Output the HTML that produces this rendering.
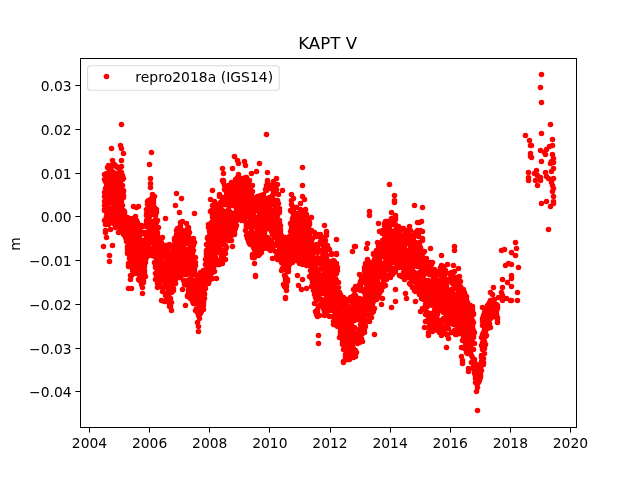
<!DOCTYPE html>
<html lang="en"><head><meta charset="utf-8"><title>KAPT V</title>
<style>html,body{margin:0;padding:0;background:#fff;}body{width:640px;height:480px;overflow:hidden;}svg{display:block;}</style></head>
<body>
<svg width="640" height="480" viewBox="0 0 640 480">
<rect width="640" height="480" fill="#fff"/>
<clipPath id="c"><rect x="80.0" y="57.6" width="496.0" height="369.6"/></clipPath>
<path clip-path="url(#c)" d="M104.5 179.5h0M104.5 220.5h0M104.5 210.5h0M104.5 201.5h0M104.5 196.5h0M104.5 174.5h0M104.5 205.5h0M104.5 209.5h0M104.5 192.5h0M105.5 230.5h0M105.5 224.5h0M105.5 177.5h0M105.5 188.5h0M105.5 210.5h0M105.5 222.5h0M105.5 194.5h0M105.5 181.5h0M105.5 198.5h0M105.5 190.5h0M105.5 219.5h0M106.5 201.5h0M106.5 223.5h0M106.5 198.5h0M106.5 185.5h0M106.5 194.5h0M106.5 212.5h0M106.5 210.5h0M106.5 216.5h0M106.5 188.5h0M106.5 182.5h0M106.5 189.5h0M106.5 173.5h0M107.5 212.5h0M107.5 203.5h0M107.5 205.5h0M107.5 185.5h0M107.5 219.5h0M107.5 173.5h0M107.5 216.5h0M107.5 182.5h0M107.5 201.5h0M107.5 208.5h0M107.5 214.5h0M108.5 193.5h0M108.5 165.5h0M108.5 208.5h0M108.5 180.5h0M108.5 197.5h0M108.5 195.5h0M108.5 182.5h0M108.5 215.5h0M108.5 173.5h0M108.5 224.5h0M109.5 221.5h0M109.5 175.5h0M109.5 218.5h0M109.5 169.5h0M109.5 168.5h0M109.5 174.5h0M109.5 189.5h0M109.5 222.5h0M109.5 213.5h0M109.5 181.5h0M109.5 188.5h0M110.5 220.5h0M110.5 177.5h0M110.5 171.5h0M110.5 182.5h0M110.5 202.5h0M110.5 166.5h0M110.5 187.5h0M110.5 195.5h0M110.5 199.5h0M110.5 215.5h0M110.5 188.5h0M111.5 176.5h0M111.5 191.5h0M111.5 208.5h0M111.5 217.5h0M111.5 170.5h0M111.5 200.5h0M111.5 219.5h0M111.5 165.5h0M111.5 181.5h0M111.5 216.5h0M111.5 213.5h0M112.5 179.5h0M112.5 177.5h0M112.5 192.5h0M112.5 208.5h0M112.5 220.5h0M112.5 210.5h0M112.5 197.5h0M112.5 216.5h0M112.5 176.5h0M112.5 222.5h0M113.5 201.5h0M113.5 223.5h0M113.5 205.5h0M113.5 218.5h0M113.5 187.5h0M113.5 182.5h0M113.5 165.5h0M113.5 183.5h0M113.5 179.5h0M113.5 220.5h0M113.5 180.5h0M113.5 172.5h0M114.5 191.5h0M114.5 223.5h0M114.5 174.5h0M114.5 203.5h0M114.5 215.5h0M114.5 186.5h0M114.5 164.5h0M114.5 199.5h0M114.5 195.5h0M114.5 182.5h0M115.5 198.5h0M115.5 188.5h0M115.5 182.5h0M115.5 174.5h0M115.5 195.5h0M115.5 205.5h0M115.5 190.5h0M115.5 178.5h0M115.5 222.5h0M115.5 187.5h0M116.5 219.5h0M116.5 203.5h0M116.5 204.5h0M116.5 180.5h0M116.5 208.5h0M116.5 205.5h0M116.5 190.5h0M116.5 220.5h0M116.5 226.5h0M116.5 201.5h0M116.5 207.5h0M117.5 213.5h0M117.5 177.5h0M117.5 211.5h0M117.5 200.5h0M117.5 199.5h0M117.5 217.5h0M117.5 205.5h0M117.5 167.5h0M117.5 195.5h0M117.5 173.5h0M117.5 225.5h0M118.5 174.5h0M118.5 179.5h0M118.5 195.5h0M118.5 209.5h0M118.5 190.5h0M118.5 226.5h0M118.5 200.5h0M118.5 221.5h0M118.5 185.5h0M118.5 217.5h0M118.5 173.5h0M119.5 198.5h0M119.5 168.5h0M119.5 185.5h0M119.5 214.5h0M119.5 197.5h0M119.5 188.5h0M119.5 181.5h0M119.5 213.5h0M119.5 206.5h0M119.5 196.5h0M119.5 224.5h0M119.5 219.5h0M119.5 207.5h0M120.5 183.5h0M120.5 215.5h0M120.5 197.5h0M120.5 187.5h0M120.5 171.5h0M120.5 172.5h0M120.5 186.5h0M120.5 178.5h0M120.5 221.5h0M120.5 193.5h0M121.5 196.5h0M121.5 229.5h0M121.5 188.5h0M121.5 191.5h0M121.5 193.5h0M121.5 189.5h0M121.5 201.5h0M121.5 187.5h0M121.5 195.5h0M121.5 172.5h0M121.5 185.5h0M122.5 175.5h0M122.5 197.5h0M122.5 214.5h0M122.5 231.5h0M122.5 216.5h0M122.5 192.5h0M122.5 223.5h0M122.5 185.5h0M122.5 205.5h0M122.5 219.5h0M122.5 179.5h0M123.5 223.5h0M123.5 190.5h0M123.5 178.5h0M123.5 197.5h0M123.5 225.5h0M123.5 191.5h0M123.5 234.5h0M123.5 210.5h0M123.5 195.5h0M124.5 224.5h0M124.5 225.5h0M124.5 214.5h0M124.5 211.5h0M124.5 227.5h0M124.5 213.5h0M124.5 230.5h0M124.5 212.5h0M124.5 228.5h0M124.5 217.5h0M125.5 222.5h0M125.5 233.5h0M125.5 236.5h0M125.5 237.5h0M125.5 235.5h0M125.5 224.5h0M125.5 218.5h0M125.5 228.5h0M125.5 226.5h0M126.5 236.5h0M126.5 225.5h0M126.5 221.5h0M126.5 227.5h0M126.5 226.5h0M126.5 222.5h0M126.5 231.5h0M126.5 235.5h0M126.5 240.5h0M126.5 241.5h0M126.5 228.5h0M126.5 239.5h0M127.5 224.5h0M127.5 228.5h0M127.5 217.5h0M127.5 247.5h0M127.5 253.5h0M127.5 226.5h0M127.5 241.5h0M127.5 249.5h0M127.5 246.5h0M127.5 222.5h0M127.5 220.5h0M127.5 252.5h0M128.5 234.5h0M128.5 263.5h0M128.5 240.5h0M128.5 231.5h0M128.5 233.5h0M128.5 241.5h0M128.5 246.5h0M128.5 265.5h0M128.5 225.5h0M128.5 266.5h0M128.5 250.5h0M129.5 236.5h0M129.5 221.5h0M129.5 231.5h0M129.5 248.5h0M129.5 246.5h0M129.5 229.5h0M129.5 233.5h0M129.5 258.5h0M129.5 255.5h0M130.5 232.5h0M130.5 239.5h0M130.5 254.5h0M130.5 250.5h0M130.5 226.5h0M130.5 242.5h0M130.5 253.5h0M130.5 279.5h0M130.5 223.5h0M130.5 275.5h0M131.5 238.5h0M131.5 227.5h0M131.5 266.5h0M131.5 275.5h0M131.5 254.5h0M131.5 224.5h0M131.5 256.5h0M131.5 252.5h0M131.5 255.5h0M131.5 235.5h0M132.5 270.5h0M132.5 240.5h0M132.5 248.5h0M132.5 259.5h0M132.5 245.5h0M132.5 249.5h0M132.5 235.5h0M132.5 252.5h0M132.5 246.5h0M132.5 241.5h0M132.5 262.5h0M133.5 234.5h0M133.5 245.5h0M133.5 264.5h0M133.5 229.5h0M133.5 249.5h0M133.5 255.5h0M133.5 253.5h0M133.5 242.5h0M133.5 272.5h0M133.5 219.5h0M133.5 239.5h0M134.5 227.5h0M134.5 240.5h0M134.5 254.5h0M134.5 268.5h0M134.5 249.5h0M134.5 239.5h0M134.5 232.5h0M134.5 253.5h0M134.5 273.5h0M134.5 236.5h0M134.5 251.5h0M134.5 242.5h0M135.5 228.5h0M135.5 249.5h0M135.5 258.5h0M135.5 238.5h0M135.5 244.5h0M135.5 216.5h0M135.5 237.5h0M135.5 257.5h0M135.5 233.5h0M135.5 253.5h0M135.5 224.5h0M136.5 256.5h0M136.5 269.5h0M136.5 243.5h0M136.5 238.5h0M136.5 239.5h0M136.5 231.5h0M136.5 251.5h0M136.5 253.5h0M136.5 257.5h0M136.5 220.5h0M136.5 235.5h0M137.5 247.5h0M137.5 260.5h0M137.5 222.5h0M137.5 249.5h0M137.5 273.5h0M137.5 241.5h0M137.5 254.5h0M137.5 250.5h0M137.5 263.5h0M137.5 248.5h0M138.5 269.5h0M138.5 253.5h0M138.5 231.5h0M138.5 261.5h0M138.5 244.5h0M138.5 264.5h0M138.5 254.5h0M138.5 279.5h0M138.5 266.5h0M138.5 262.5h0M139.5 256.5h0M139.5 231.5h0M139.5 280.5h0M139.5 250.5h0M139.5 277.5h0M139.5 270.5h0M139.5 271.5h0M139.5 268.5h0M139.5 246.5h0M139.5 236.5h0M139.5 260.5h0M139.5 255.5h0M140.5 266.5h0M140.5 243.5h0M140.5 273.5h0M140.5 258.5h0M140.5 231.5h0M140.5 232.5h0M140.5 234.5h0M140.5 248.5h0M140.5 253.5h0M140.5 270.5h0M140.5 260.5h0M140.5 226.5h0M141.5 274.5h0M141.5 266.5h0M141.5 225.5h0M141.5 284.5h0M141.5 264.5h0M141.5 240.5h0M141.5 258.5h0M141.5 260.5h0M141.5 253.5h0M141.5 247.5h0M141.5 259.5h0M142.5 257.5h0M142.5 269.5h0M142.5 287.5h0M142.5 255.5h0M142.5 271.5h0M142.5 279.5h0M142.5 243.5h0M142.5 277.5h0M142.5 252.5h0M142.5 264.5h0M142.5 251.5h0M143.5 248.5h0M143.5 268.5h0M143.5 281.5h0M143.5 264.5h0M143.5 280.5h0M143.5 247.5h0M143.5 246.5h0M143.5 233.5h0M143.5 269.5h0M143.5 282.5h0M144.5 260.5h0M144.5 274.5h0M144.5 245.5h0M144.5 259.5h0M144.5 232.5h0M144.5 272.5h0M144.5 266.5h0M144.5 264.5h0M144.5 270.5h0M144.5 249.5h0M144.5 254.5h0M144.5 262.5h0M145.5 249.5h0M145.5 248.5h0M145.5 276.5h0M145.5 239.5h0M145.5 262.5h0M145.5 257.5h0M145.5 261.5h0M145.5 255.5h0M145.5 240.5h0M145.5 246.5h0M146.5 215.5h0M146.5 220.5h0M146.5 223.5h0M146.5 247.5h0M146.5 234.5h0M146.5 213.5h0M146.5 254.5h0M146.5 236.5h0M146.5 226.5h0M146.5 209.5h0M146.5 257.5h0M146.5 232.5h0M147.5 243.5h0M147.5 247.5h0M147.5 237.5h0M147.5 213.5h0M147.5 223.5h0M147.5 204.5h0M147.5 236.5h0M147.5 218.5h0M147.5 238.5h0M147.5 201.5h0M147.5 224.5h0M148.5 221.5h0M148.5 233.5h0M148.5 235.5h0M148.5 249.5h0M148.5 253.5h0M148.5 208.5h0M148.5 236.5h0M148.5 231.5h0M148.5 200.5h0M148.5 212.5h0M148.5 215.5h0M148.5 246.5h0M149.5 227.5h0M149.5 216.5h0M149.5 230.5h0M149.5 228.5h0M149.5 233.5h0M149.5 231.5h0M149.5 234.5h0M149.5 236.5h0M149.5 209.5h0M149.5 201.5h0M149.5 204.5h0M150.5 227.5h0M150.5 225.5h0M150.5 201.5h0M150.5 233.5h0M150.5 203.5h0M150.5 199.5h0M150.5 242.5h0M150.5 241.5h0M150.5 230.5h0M150.5 205.5h0M150.5 213.5h0M150.5 224.5h0M151.5 233.5h0M151.5 212.5h0M151.5 241.5h0M151.5 226.5h0M151.5 211.5h0M151.5 210.5h0M151.5 208.5h0M151.5 207.5h0M151.5 232.5h0M151.5 237.5h0M151.5 221.5h0M152.5 237.5h0M152.5 251.5h0M152.5 196.5h0M152.5 252.5h0M152.5 203.5h0M152.5 197.5h0M152.5 207.5h0M152.5 205.5h0M152.5 231.5h0M152.5 239.5h0M152.5 249.5h0M153.5 233.5h0M153.5 200.5h0M153.5 247.5h0M153.5 222.5h0M153.5 237.5h0M153.5 242.5h0M153.5 214.5h0M153.5 203.5h0M153.5 210.5h0M153.5 240.5h0M153.5 206.5h0M153.5 241.5h0M154.5 221.5h0M154.5 207.5h0M154.5 211.5h0M154.5 250.5h0M154.5 251.5h0M154.5 196.5h0M154.5 256.5h0M154.5 234.5h0M154.5 245.5h0M154.5 262.5h0M155.5 273.5h0M155.5 215.5h0M155.5 265.5h0M155.5 267.5h0M155.5 264.5h0M155.5 227.5h0M155.5 251.5h0M155.5 237.5h0M155.5 219.5h0M155.5 279.5h0M156.5 209.5h0M156.5 241.5h0M156.5 279.5h0M156.5 246.5h0M156.5 231.5h0M156.5 275.5h0M156.5 212.5h0M156.5 258.5h0M156.5 268.5h0M156.5 265.5h0M156.5 222.5h0M157.5 265.5h0M157.5 256.5h0M157.5 235.5h0M157.5 260.5h0M157.5 237.5h0M157.5 287.5h0M157.5 283.5h0M157.5 243.5h0M157.5 261.5h0M157.5 220.5h0M157.5 263.5h0M157.5 232.5h0M158.5 273.5h0M158.5 258.5h0M158.5 227.5h0M158.5 255.5h0M158.5 262.5h0M158.5 253.5h0M158.5 241.5h0M158.5 271.5h0M158.5 260.5h0M158.5 243.5h0M159.5 265.5h0M159.5 251.5h0M159.5 241.5h0M159.5 248.5h0M159.5 247.5h0M159.5 244.5h0M159.5 245.5h0M159.5 270.5h0M159.5 283.5h0M159.5 262.5h0M159.5 279.5h0M159.5 252.5h0M160.5 260.5h0M160.5 256.5h0M160.5 240.5h0M160.5 243.5h0M160.5 275.5h0M160.5 264.5h0M160.5 254.5h0M160.5 278.5h0M160.5 270.5h0M160.5 259.5h0M161.5 247.5h0M161.5 249.5h0M161.5 253.5h0M161.5 265.5h0M161.5 270.5h0M161.5 277.5h0M161.5 252.5h0M161.5 300.5h0M161.5 246.5h0M161.5 242.5h0M161.5 262.5h0M162.5 291.5h0M162.5 267.5h0M162.5 265.5h0M162.5 237.5h0M162.5 287.5h0M162.5 253.5h0M162.5 269.5h0M162.5 251.5h0M162.5 274.5h0M162.5 266.5h0M163.5 273.5h0M163.5 262.5h0M163.5 274.5h0M163.5 272.5h0M163.5 256.5h0M163.5 280.5h0M163.5 251.5h0M163.5 275.5h0M163.5 277.5h0M163.5 248.5h0M164.5 278.5h0M164.5 263.5h0M164.5 272.5h0M164.5 255.5h0M164.5 271.5h0M164.5 285.5h0M164.5 274.5h0M164.5 250.5h0M165.5 264.5h0M165.5 293.5h0M165.5 281.5h0M165.5 295.5h0M165.5 277.5h0M165.5 251.5h0M165.5 276.5h0M165.5 286.5h0M165.5 256.5h0M165.5 301.5h0M165.5 245.5h0M165.5 269.5h0M166.5 269.5h0M166.5 280.5h0M166.5 261.5h0M166.5 260.5h0M166.5 273.5h0M166.5 257.5h0M166.5 262.5h0M166.5 279.5h0M166.5 249.5h0M166.5 299.5h0M166.5 287.5h0M166.5 255.5h0M167.5 278.5h0M167.5 258.5h0M167.5 249.5h0M167.5 256.5h0M167.5 269.5h0M167.5 263.5h0M167.5 275.5h0M167.5 246.5h0M167.5 266.5h0M167.5 265.5h0M167.5 261.5h0M168.5 262.5h0M168.5 269.5h0M168.5 270.5h0M168.5 295.5h0M168.5 251.5h0M168.5 282.5h0M168.5 291.5h0M168.5 267.5h0M168.5 265.5h0M168.5 294.5h0M168.5 272.5h0M169.5 284.5h0M169.5 253.5h0M169.5 244.5h0M169.5 306.5h0M169.5 298.5h0M169.5 276.5h0M169.5 246.5h0M169.5 303.5h0M169.5 292.5h0M169.5 283.5h0M170.5 287.5h0M170.5 269.5h0M170.5 278.5h0M170.5 275.5h0M170.5 288.5h0M170.5 282.5h0M170.5 298.5h0M170.5 290.5h0M170.5 281.5h0M170.5 270.5h0M170.5 266.5h0M170.5 259.5h0M171.5 255.5h0M171.5 283.5h0M171.5 261.5h0M171.5 302.5h0M171.5 267.5h0M171.5 262.5h0M171.5 292.5h0M171.5 264.5h0M171.5 254.5h0M171.5 289.5h0M171.5 277.5h0M172.5 258.5h0M172.5 259.5h0M172.5 285.5h0M172.5 291.5h0M172.5 255.5h0M172.5 283.5h0M172.5 273.5h0M172.5 262.5h0M172.5 284.5h0M172.5 271.5h0M173.5 290.5h0M173.5 272.5h0M173.5 280.5h0M173.5 262.5h0M173.5 270.5h0M173.5 288.5h0M173.5 249.5h0M173.5 264.5h0M173.5 278.5h0M173.5 251.5h0M173.5 260.5h0M174.5 240.5h0M174.5 260.5h0M174.5 270.5h0M174.5 276.5h0M174.5 266.5h0M174.5 238.5h0M174.5 281.5h0M174.5 244.5h0M174.5 279.5h0M174.5 265.5h0M174.5 262.5h0M175.5 244.5h0M175.5 237.5h0M175.5 265.5h0M175.5 270.5h0M175.5 278.5h0M175.5 267.5h0M175.5 283.5h0M175.5 262.5h0M175.5 279.5h0M175.5 252.5h0M175.5 277.5h0M175.5 257.5h0M176.5 249.5h0M176.5 260.5h0M176.5 257.5h0M176.5 251.5h0M176.5 230.5h0M176.5 236.5h0M176.5 274.5h0M176.5 258.5h0M176.5 246.5h0M176.5 244.5h0M176.5 234.5h0M177.5 262.5h0M177.5 264.5h0M177.5 228.5h0M177.5 261.5h0M177.5 275.5h0M177.5 258.5h0M177.5 246.5h0M177.5 274.5h0M177.5 240.5h0M177.5 269.5h0M177.5 239.5h0M178.5 263.5h0M178.5 259.5h0M178.5 271.5h0M178.5 246.5h0M178.5 238.5h0M178.5 258.5h0M178.5 273.5h0M178.5 277.5h0M178.5 272.5h0M178.5 255.5h0M178.5 237.5h0M179.5 243.5h0M179.5 267.5h0M179.5 256.5h0M179.5 272.5h0M179.5 263.5h0M179.5 277.5h0M179.5 230.5h0M179.5 268.5h0M179.5 247.5h0M179.5 246.5h0M179.5 254.5h0M179.5 232.5h0M180.5 269.5h0M180.5 252.5h0M180.5 256.5h0M180.5 255.5h0M180.5 233.5h0M180.5 242.5h0M180.5 222.5h0M180.5 225.5h0M180.5 228.5h0M180.5 267.5h0M180.5 263.5h0M181.5 253.5h0M181.5 258.5h0M181.5 268.5h0M181.5 240.5h0M181.5 242.5h0M181.5 269.5h0M181.5 250.5h0M181.5 267.5h0M181.5 238.5h0M181.5 272.5h0M181.5 262.5h0M182.5 230.5h0M182.5 250.5h0M182.5 255.5h0M182.5 231.5h0M182.5 235.5h0M182.5 257.5h0M182.5 251.5h0M182.5 221.5h0M182.5 232.5h0M182.5 241.5h0M182.5 273.5h0M182.5 258.5h0M183.5 253.5h0M183.5 249.5h0M183.5 260.5h0M183.5 257.5h0M183.5 266.5h0M183.5 271.5h0M183.5 274.5h0M183.5 239.5h0M183.5 265.5h0M183.5 280.5h0M183.5 247.5h0M183.5 250.5h0M184.5 266.5h0M184.5 284.5h0M184.5 237.5h0M184.5 257.5h0M184.5 269.5h0M184.5 250.5h0M184.5 240.5h0M184.5 251.5h0M184.5 274.5h0M184.5 231.5h0M184.5 264.5h0M184.5 271.5h0M185.5 284.5h0M185.5 269.5h0M185.5 260.5h0M185.5 263.5h0M185.5 257.5h0M185.5 281.5h0M185.5 253.5h0M185.5 274.5h0M185.5 264.5h0M185.5 242.5h0M185.5 256.5h0M186.5 243.5h0M186.5 266.5h0M186.5 240.5h0M186.5 262.5h0M186.5 238.5h0M186.5 242.5h0M186.5 274.5h0M186.5 232.5h0M186.5 251.5h0M186.5 260.5h0M186.5 257.5h0M186.5 258.5h0M187.5 261.5h0M187.5 285.5h0M187.5 296.5h0M187.5 280.5h0M187.5 228.5h0M187.5 254.5h0M187.5 263.5h0M187.5 260.5h0M187.5 295.5h0M187.5 251.5h0M187.5 249.5h0M188.5 236.5h0M188.5 228.5h0M188.5 258.5h0M188.5 227.5h0M188.5 268.5h0M188.5 291.5h0M188.5 283.5h0M188.5 293.5h0M188.5 289.5h0M188.5 257.5h0M188.5 243.5h0M189.5 232.5h0M189.5 256.5h0M189.5 273.5h0M189.5 248.5h0M189.5 297.5h0M189.5 252.5h0M189.5 238.5h0M189.5 269.5h0M189.5 290.5h0M189.5 291.5h0M189.5 279.5h0M189.5 262.5h0M190.5 272.5h0M190.5 266.5h0M190.5 298.5h0M190.5 249.5h0M190.5 241.5h0M190.5 264.5h0M190.5 289.5h0M190.5 256.5h0M190.5 258.5h0M190.5 245.5h0M190.5 248.5h0M191.5 246.5h0M191.5 270.5h0M191.5 254.5h0M191.5 290.5h0M191.5 255.5h0M191.5 280.5h0M191.5 298.5h0M191.5 247.5h0M191.5 267.5h0M191.5 279.5h0M191.5 284.5h0M191.5 275.5h0M192.5 282.5h0M192.5 266.5h0M192.5 260.5h0M192.5 256.5h0M192.5 300.5h0M192.5 265.5h0M192.5 269.5h0M192.5 301.5h0M192.5 253.5h0M192.5 247.5h0M192.5 263.5h0M193.5 243.5h0M193.5 274.5h0M193.5 245.5h0M193.5 238.5h0M193.5 250.5h0M193.5 289.5h0M193.5 281.5h0M193.5 303.5h0M193.5 288.5h0M193.5 271.5h0M193.5 295.5h0M194.5 270.5h0M194.5 242.5h0M194.5 286.5h0M194.5 262.5h0M194.5 267.5h0M194.5 301.5h0M194.5 290.5h0M194.5 272.5h0M194.5 280.5h0M194.5 293.5h0M194.5 281.5h0M194.5 268.5h0M195.5 310.5h0M195.5 282.5h0M195.5 281.5h0M195.5 265.5h0M195.5 288.5h0M195.5 283.5h0M195.5 280.5h0M195.5 262.5h0M195.5 291.5h0M195.5 257.5h0M195.5 292.5h0M196.5 294.5h0M196.5 295.5h0M196.5 290.5h0M196.5 296.5h0M196.5 279.5h0M196.5 285.5h0M196.5 309.5h0M196.5 303.5h0M196.5 286.5h0M196.5 308.5h0M197.5 288.5h0M197.5 309.5h0M197.5 303.5h0M197.5 279.5h0M197.5 285.5h0M197.5 275.5h0M197.5 277.5h0M197.5 300.5h0M197.5 295.5h0M197.5 281.5h0M197.5 283.5h0M198.5 293.5h0M198.5 288.5h0M198.5 297.5h0M198.5 300.5h0M198.5 302.5h0M198.5 301.5h0M198.5 277.5h0M198.5 304.5h0M198.5 311.5h0M198.5 289.5h0M198.5 315.5h0M199.5 298.5h0M199.5 280.5h0M199.5 289.5h0M199.5 286.5h0M199.5 297.5h0M199.5 314.5h0M199.5 294.5h0M199.5 296.5h0M199.5 303.5h0M200.5 308.5h0M200.5 313.5h0M200.5 296.5h0M200.5 303.5h0M200.5 293.5h0M200.5 274.5h0M200.5 306.5h0M200.5 291.5h0M200.5 289.5h0M200.5 294.5h0M200.5 290.5h0M200.5 304.5h0M201.5 301.5h0M201.5 291.5h0M201.5 307.5h0M201.5 283.5h0M201.5 286.5h0M201.5 289.5h0M201.5 284.5h0M201.5 300.5h0M201.5 292.5h0M202.5 294.5h0M202.5 304.5h0M202.5 287.5h0M202.5 299.5h0M202.5 305.5h0M202.5 293.5h0M202.5 282.5h0M202.5 291.5h0M202.5 278.5h0M202.5 297.5h0M202.5 296.5h0M203.5 292.5h0M203.5 309.5h0M203.5 293.5h0M203.5 298.5h0M203.5 284.5h0M203.5 287.5h0M203.5 294.5h0M203.5 305.5h0M203.5 301.5h0M203.5 302.5h0M203.5 278.5h0M203.5 270.5h0M204.5 281.5h0M204.5 285.5h0M204.5 294.5h0M204.5 293.5h0M204.5 284.5h0M204.5 298.5h0M204.5 278.5h0M204.5 271.5h0M204.5 286.5h0M204.5 283.5h0M204.5 270.5h0M205.5 269.5h0M205.5 259.5h0M205.5 264.5h0M205.5 275.5h0M205.5 284.5h0M205.5 273.5h0M205.5 282.5h0M205.5 288.5h0M205.5 272.5h0M205.5 276.5h0M206.5 250.5h0M206.5 256.5h0M206.5 279.5h0M206.5 272.5h0M206.5 260.5h0M206.5 257.5h0M206.5 244.5h0M206.5 251.5h0M206.5 254.5h0M206.5 253.5h0M206.5 262.5h0M206.5 252.5h0M207.5 279.5h0M207.5 249.5h0M207.5 281.5h0M207.5 238.5h0M207.5 245.5h0M207.5 278.5h0M207.5 269.5h0M207.5 237.5h0M207.5 266.5h0M207.5 263.5h0M207.5 262.5h0M208.5 227.5h0M208.5 276.5h0M208.5 252.5h0M208.5 256.5h0M208.5 253.5h0M208.5 275.5h0M208.5 246.5h0M208.5 247.5h0M208.5 224.5h0M208.5 242.5h0M208.5 283.5h0M208.5 277.5h0M209.5 270.5h0M209.5 280.5h0M209.5 251.5h0M209.5 239.5h0M209.5 231.5h0M209.5 273.5h0M209.5 235.5h0M209.5 250.5h0M209.5 267.5h0M209.5 263.5h0M210.5 264.5h0M210.5 228.5h0M210.5 259.5h0M210.5 245.5h0M210.5 240.5h0M210.5 249.5h0M210.5 278.5h0M210.5 274.5h0M210.5 224.5h0M210.5 258.5h0M210.5 211.5h0M211.5 266.5h0M211.5 248.5h0M211.5 258.5h0M211.5 222.5h0M211.5 271.5h0M211.5 231.5h0M211.5 210.5h0M211.5 232.5h0M211.5 244.5h0M211.5 245.5h0M211.5 238.5h0M212.5 231.5h0M212.5 245.5h0M212.5 262.5h0M212.5 230.5h0M212.5 272.5h0M212.5 222.5h0M212.5 217.5h0M212.5 215.5h0M212.5 247.5h0M212.5 269.5h0M212.5 205.5h0M212.5 242.5h0M212.5 253.5h0M213.5 244.5h0M213.5 223.5h0M213.5 239.5h0M213.5 268.5h0M213.5 246.5h0M213.5 240.5h0M213.5 266.5h0M213.5 212.5h0M213.5 227.5h0M213.5 251.5h0M213.5 267.5h0M213.5 257.5h0M214.5 225.5h0M214.5 223.5h0M214.5 221.5h0M214.5 252.5h0M214.5 271.5h0M214.5 241.5h0M214.5 234.5h0M214.5 207.5h0M214.5 259.5h0M214.5 247.5h0M214.5 217.5h0M214.5 201.5h0M215.5 218.5h0M215.5 225.5h0M215.5 248.5h0M215.5 242.5h0M215.5 237.5h0M215.5 210.5h0M215.5 257.5h0M215.5 252.5h0M215.5 240.5h0M215.5 214.5h0M215.5 207.5h0M216.5 245.5h0M216.5 224.5h0M216.5 238.5h0M216.5 223.5h0M216.5 220.5h0M216.5 226.5h0M216.5 225.5h0M216.5 233.5h0M216.5 239.5h0M216.5 242.5h0M216.5 248.5h0M217.5 224.5h0M217.5 222.5h0M217.5 239.5h0M217.5 229.5h0M217.5 214.5h0M217.5 227.5h0M217.5 260.5h0M217.5 236.5h0M217.5 225.5h0M217.5 204.5h0M218.5 237.5h0M218.5 252.5h0M218.5 204.5h0M218.5 223.5h0M218.5 215.5h0M218.5 219.5h0M218.5 245.5h0M218.5 232.5h0M218.5 212.5h0M218.5 214.5h0M218.5 234.5h0M218.5 231.5h0M219.5 231.5h0M219.5 232.5h0M219.5 210.5h0M219.5 248.5h0M219.5 194.5h0M219.5 196.5h0M219.5 216.5h0M219.5 224.5h0M219.5 236.5h0M219.5 238.5h0M219.5 264.5h0M220.5 215.5h0M220.5 213.5h0M220.5 207.5h0M220.5 245.5h0M220.5 238.5h0M220.5 232.5h0M220.5 221.5h0M220.5 202.5h0M220.5 229.5h0M220.5 203.5h0M220.5 242.5h0M221.5 205.5h0M221.5 231.5h0M221.5 254.5h0M221.5 222.5h0M221.5 262.5h0M221.5 212.5h0M221.5 235.5h0M221.5 217.5h0M221.5 197.5h0M221.5 233.5h0M221.5 256.5h0M222.5 254.5h0M222.5 223.5h0M222.5 263.5h0M222.5 258.5h0M222.5 243.5h0M222.5 197.5h0M222.5 229.5h0M222.5 210.5h0M222.5 214.5h0M222.5 240.5h0M222.5 227.5h0M222.5 250.5h0M223.5 217.5h0M223.5 182.5h0M223.5 229.5h0M223.5 255.5h0M223.5 222.5h0M223.5 238.5h0M223.5 243.5h0M223.5 239.5h0M223.5 237.5h0M223.5 213.5h0M223.5 236.5h0M224.5 221.5h0M224.5 203.5h0M224.5 185.5h0M224.5 204.5h0M224.5 202.5h0M224.5 238.5h0M224.5 215.5h0M224.5 189.5h0M224.5 211.5h0M224.5 217.5h0M224.5 199.5h0M225.5 204.5h0M225.5 259.5h0M225.5 229.5h0M225.5 234.5h0M225.5 228.5h0M225.5 220.5h0M225.5 245.5h0M225.5 233.5h0M225.5 249.5h0M225.5 230.5h0M225.5 253.5h0M226.5 236.5h0M226.5 192.5h0M226.5 217.5h0M226.5 228.5h0M226.5 196.5h0M226.5 239.5h0M226.5 227.5h0M226.5 199.5h0M226.5 226.5h0M226.5 247.5h0M226.5 214.5h0M226.5 195.5h0M227.5 193.5h0M227.5 195.5h0M227.5 214.5h0M227.5 219.5h0M227.5 229.5h0M227.5 190.5h0M227.5 236.5h0M227.5 223.5h0M227.5 225.5h0M228.5 197.5h0M228.5 210.5h0M228.5 215.5h0M228.5 224.5h0M228.5 234.5h0M228.5 240.5h0M228.5 218.5h0M228.5 209.5h0M228.5 235.5h0M228.5 195.5h0M229.5 214.5h0M229.5 239.5h0M229.5 226.5h0M229.5 233.5h0M229.5 211.5h0M229.5 203.5h0M229.5 212.5h0M229.5 204.5h0M229.5 234.5h0M229.5 205.5h0M229.5 230.5h0M230.5 233.5h0M230.5 197.5h0M230.5 187.5h0M230.5 235.5h0M230.5 194.5h0M230.5 212.5h0M230.5 240.5h0M230.5 219.5h0M230.5 225.5h0M230.5 199.5h0M230.5 195.5h0M230.5 223.5h0M231.5 200.5h0M231.5 188.5h0M231.5 226.5h0M231.5 218.5h0M231.5 195.5h0M231.5 235.5h0M231.5 186.5h0M231.5 182.5h0M231.5 240.5h0M231.5 223.5h0M232.5 213.5h0M232.5 223.5h0M232.5 226.5h0M232.5 246.5h0M232.5 197.5h0M232.5 196.5h0M232.5 192.5h0M232.5 205.5h0M232.5 199.5h0M232.5 214.5h0M232.5 190.5h0M233.5 215.5h0M233.5 214.5h0M233.5 199.5h0M233.5 225.5h0M233.5 195.5h0M233.5 228.5h0M233.5 222.5h0M233.5 203.5h0M233.5 220.5h0M233.5 213.5h0M233.5 204.5h0M234.5 218.5h0M234.5 214.5h0M234.5 234.5h0M234.5 213.5h0M234.5 188.5h0M234.5 203.5h0M234.5 217.5h0M234.5 232.5h0M234.5 182.5h0M234.5 223.5h0M234.5 185.5h0M234.5 229.5h0M235.5 217.5h0M235.5 179.5h0M235.5 213.5h0M235.5 189.5h0M235.5 196.5h0M235.5 228.5h0M235.5 223.5h0M235.5 221.5h0M235.5 218.5h0M235.5 206.5h0M235.5 205.5h0M236.5 200.5h0M236.5 182.5h0M236.5 220.5h0M236.5 225.5h0M236.5 211.5h0M236.5 189.5h0M236.5 215.5h0M236.5 199.5h0M236.5 210.5h0M236.5 194.5h0M236.5 188.5h0M237.5 198.5h0M237.5 204.5h0M237.5 180.5h0M237.5 211.5h0M237.5 203.5h0M237.5 212.5h0M237.5 177.5h0M237.5 207.5h0M237.5 194.5h0M238.5 198.5h0M238.5 204.5h0M238.5 201.5h0M238.5 183.5h0M238.5 181.5h0M238.5 211.5h0M238.5 213.5h0M238.5 189.5h0M238.5 215.5h0M238.5 197.5h0M238.5 195.5h0M239.5 198.5h0M239.5 191.5h0M239.5 203.5h0M239.5 179.5h0M239.5 214.5h0M239.5 195.5h0M239.5 201.5h0M239.5 180.5h0M239.5 208.5h0M239.5 185.5h0M239.5 189.5h0M240.5 200.5h0M240.5 201.5h0M240.5 195.5h0M240.5 192.5h0M240.5 202.5h0M240.5 186.5h0M240.5 198.5h0M240.5 207.5h0M241.5 200.5h0M241.5 189.5h0M241.5 182.5h0M241.5 188.5h0M241.5 220.5h0M241.5 196.5h0M241.5 202.5h0M241.5 191.5h0M241.5 190.5h0M241.5 198.5h0M241.5 181.5h0M242.5 187.5h0M242.5 212.5h0M242.5 178.5h0M242.5 196.5h0M242.5 185.5h0M242.5 189.5h0M242.5 205.5h0M242.5 203.5h0M242.5 195.5h0M242.5 197.5h0M242.5 183.5h0M243.5 199.5h0M243.5 213.5h0M243.5 194.5h0M243.5 185.5h0M243.5 193.5h0M243.5 202.5h0M243.5 189.5h0M243.5 215.5h0M243.5 179.5h0M243.5 200.5h0M244.5 187.5h0M244.5 185.5h0M244.5 190.5h0M244.5 191.5h0M244.5 188.5h0M244.5 192.5h0M244.5 211.5h0M244.5 219.5h0M244.5 189.5h0M244.5 179.5h0M244.5 207.5h0M245.5 214.5h0M245.5 193.5h0M245.5 201.5h0M245.5 221.5h0M245.5 205.5h0M245.5 185.5h0M245.5 177.5h0M245.5 196.5h0M245.5 207.5h0M245.5 212.5h0M245.5 179.5h0M245.5 230.5h0M246.5 225.5h0M246.5 216.5h0M246.5 190.5h0M246.5 224.5h0M246.5 182.5h0M246.5 203.5h0M246.5 177.5h0M246.5 227.5h0M246.5 201.5h0M246.5 204.5h0M246.5 197.5h0M246.5 235.5h0M247.5 180.5h0M247.5 214.5h0M247.5 225.5h0M247.5 213.5h0M247.5 203.5h0M247.5 212.5h0M247.5 238.5h0M247.5 191.5h0M247.5 184.5h0M247.5 236.5h0M247.5 204.5h0M247.5 189.5h0M248.5 225.5h0M248.5 188.5h0M248.5 183.5h0M248.5 226.5h0M248.5 199.5h0M248.5 198.5h0M248.5 236.5h0M248.5 223.5h0M248.5 241.5h0M248.5 200.5h0M248.5 210.5h0M248.5 197.5h0M249.5 243.5h0M249.5 193.5h0M249.5 180.5h0M249.5 224.5h0M249.5 209.5h0M249.5 223.5h0M249.5 188.5h0M249.5 204.5h0M249.5 205.5h0M249.5 199.5h0M249.5 212.5h0M249.5 233.5h0M250.5 237.5h0M250.5 188.5h0M250.5 198.5h0M250.5 219.5h0M250.5 207.5h0M250.5 203.5h0M250.5 242.5h0M250.5 211.5h0M250.5 244.5h0M250.5 206.5h0M250.5 233.5h0M251.5 195.5h0M251.5 194.5h0M251.5 213.5h0M251.5 229.5h0M251.5 211.5h0M251.5 231.5h0M251.5 205.5h0M251.5 196.5h0M251.5 224.5h0M251.5 209.5h0M251.5 218.5h0M252.5 217.5h0M252.5 226.5h0M252.5 212.5h0M252.5 207.5h0M252.5 227.5h0M252.5 209.5h0M252.5 199.5h0M252.5 191.5h0M252.5 255.5h0M252.5 215.5h0M252.5 254.5h0M252.5 185.5h0M252.5 237.5h0M253.5 205.5h0M253.5 218.5h0M253.5 224.5h0M253.5 217.5h0M253.5 203.5h0M253.5 213.5h0M253.5 237.5h0M253.5 243.5h0M253.5 247.5h0M253.5 222.5h0M254.5 248.5h0M254.5 234.5h0M254.5 205.5h0M254.5 237.5h0M254.5 249.5h0M254.5 240.5h0M254.5 257.5h0M254.5 223.5h0M254.5 221.5h0M254.5 219.5h0M254.5 204.5h0M255.5 205.5h0M255.5 206.5h0M255.5 238.5h0M255.5 210.5h0M255.5 223.5h0M255.5 254.5h0M255.5 221.5h0M255.5 207.5h0M255.5 249.5h0M255.5 198.5h0M255.5 224.5h0M256.5 234.5h0M256.5 242.5h0M256.5 197.5h0M256.5 217.5h0M256.5 232.5h0M256.5 201.5h0M256.5 243.5h0M256.5 208.5h0M256.5 252.5h0M256.5 210.5h0M257.5 229.5h0M257.5 251.5h0M257.5 238.5h0M257.5 244.5h0M257.5 224.5h0M257.5 196.5h0M257.5 231.5h0M257.5 246.5h0M257.5 221.5h0M257.5 227.5h0M258.5 239.5h0M258.5 232.5h0M258.5 202.5h0M258.5 210.5h0M258.5 228.5h0M258.5 243.5h0M258.5 207.5h0M258.5 208.5h0M258.5 206.5h0M258.5 224.5h0M259.5 213.5h0M259.5 234.5h0M259.5 202.5h0M259.5 248.5h0M259.5 254.5h0M259.5 209.5h0M259.5 227.5h0M259.5 242.5h0M259.5 207.5h0M259.5 200.5h0M259.5 204.5h0M259.5 230.5h0M259.5 251.5h0M260.5 235.5h0M260.5 226.5h0M260.5 236.5h0M260.5 195.5h0M260.5 218.5h0M260.5 253.5h0M260.5 225.5h0M260.5 242.5h0M260.5 252.5h0M260.5 224.5h0M260.5 232.5h0M261.5 205.5h0M261.5 225.5h0M261.5 226.5h0M261.5 217.5h0M261.5 238.5h0M261.5 243.5h0M261.5 216.5h0M261.5 240.5h0M261.5 218.5h0M261.5 252.5h0M261.5 239.5h0M261.5 245.5h0M262.5 237.5h0M262.5 235.5h0M262.5 238.5h0M262.5 228.5h0M262.5 231.5h0M262.5 233.5h0M262.5 222.5h0M262.5 204.5h0M262.5 226.5h0M262.5 245.5h0M262.5 207.5h0M263.5 235.5h0M263.5 232.5h0M263.5 197.5h0M263.5 228.5h0M263.5 213.5h0M263.5 216.5h0M263.5 210.5h0M263.5 194.5h0M263.5 207.5h0M263.5 248.5h0M263.5 217.5h0M264.5 232.5h0M264.5 202.5h0M264.5 233.5h0M264.5 211.5h0M264.5 243.5h0M264.5 199.5h0M264.5 239.5h0M264.5 226.5h0M264.5 208.5h0M264.5 220.5h0M264.5 241.5h0M265.5 204.5h0M265.5 199.5h0M265.5 244.5h0M265.5 202.5h0M265.5 228.5h0M265.5 216.5h0M265.5 206.5h0M265.5 189.5h0M265.5 201.5h0M265.5 229.5h0M265.5 198.5h0M266.5 211.5h0M266.5 188.5h0M266.5 207.5h0M266.5 190.5h0M266.5 201.5h0M266.5 210.5h0M266.5 202.5h0M266.5 189.5h0M266.5 244.5h0M266.5 237.5h0M267.5 237.5h0M267.5 239.5h0M267.5 225.5h0M267.5 215.5h0M267.5 242.5h0M267.5 226.5h0M267.5 217.5h0M267.5 219.5h0M267.5 248.5h0M267.5 224.5h0M267.5 202.5h0M267.5 181.5h0M268.5 209.5h0M268.5 246.5h0M268.5 213.5h0M268.5 204.5h0M268.5 206.5h0M268.5 226.5h0M268.5 224.5h0M268.5 207.5h0M268.5 217.5h0M268.5 227.5h0M268.5 222.5h0M269.5 226.5h0M269.5 216.5h0M269.5 220.5h0M269.5 213.5h0M269.5 223.5h0M269.5 221.5h0M269.5 197.5h0M269.5 239.5h0M269.5 207.5h0M270.5 250.5h0M270.5 246.5h0M270.5 218.5h0M270.5 229.5h0M270.5 188.5h0M270.5 247.5h0M270.5 216.5h0M270.5 210.5h0M270.5 197.5h0M270.5 211.5h0M270.5 226.5h0M270.5 219.5h0M271.5 221.5h0M271.5 240.5h0M271.5 222.5h0M271.5 242.5h0M271.5 241.5h0M271.5 247.5h0M271.5 231.5h0M271.5 204.5h0M271.5 199.5h0M271.5 226.5h0M271.5 185.5h0M272.5 215.5h0M272.5 197.5h0M272.5 195.5h0M272.5 218.5h0M272.5 217.5h0M272.5 243.5h0M272.5 212.5h0M272.5 229.5h0M272.5 258.5h0M272.5 228.5h0M272.5 213.5h0M272.5 234.5h0M273.5 211.5h0M273.5 246.5h0M273.5 229.5h0M273.5 217.5h0M273.5 218.5h0M273.5 192.5h0M273.5 210.5h0M273.5 193.5h0M273.5 199.5h0M273.5 200.5h0M273.5 228.5h0M273.5 184.5h0M274.5 245.5h0M274.5 237.5h0M274.5 216.5h0M274.5 236.5h0M274.5 184.5h0M274.5 205.5h0M274.5 232.5h0M274.5 192.5h0M274.5 201.5h0M274.5 188.5h0M275.5 201.5h0M275.5 224.5h0M275.5 229.5h0M275.5 235.5h0M275.5 251.5h0M275.5 218.5h0M275.5 214.5h0M275.5 191.5h0M275.5 228.5h0M275.5 220.5h0M275.5 215.5h0M276.5 257.5h0M276.5 193.5h0M276.5 217.5h0M276.5 228.5h0M276.5 243.5h0M276.5 227.5h0M276.5 256.5h0M276.5 224.5h0M276.5 202.5h0M276.5 189.5h0M276.5 213.5h0M277.5 230.5h0M277.5 207.5h0M277.5 215.5h0M277.5 235.5h0M277.5 237.5h0M277.5 245.5h0M277.5 239.5h0M277.5 200.5h0M277.5 238.5h0M277.5 222.5h0M277.5 208.5h0M278.5 194.5h0M278.5 203.5h0M278.5 226.5h0M278.5 229.5h0M278.5 225.5h0M278.5 234.5h0M278.5 208.5h0M278.5 242.5h0M278.5 237.5h0M278.5 238.5h0M279.5 242.5h0M279.5 223.5h0M279.5 229.5h0M279.5 208.5h0M279.5 238.5h0M279.5 236.5h0M279.5 249.5h0M279.5 220.5h0M279.5 259.5h0M279.5 211.5h0M279.5 212.5h0M279.5 252.5h0M280.5 252.5h0M280.5 240.5h0M280.5 248.5h0M280.5 247.5h0M280.5 229.5h0M280.5 225.5h0M280.5 257.5h0M280.5 231.5h0M280.5 255.5h0M280.5 244.5h0M280.5 243.5h0M281.5 238.5h0M281.5 242.5h0M281.5 235.5h0M281.5 243.5h0M281.5 251.5h0M281.5 262.5h0M281.5 258.5h0M281.5 270.5h0M281.5 245.5h0M281.5 248.5h0M281.5 257.5h0M281.5 237.5h0M282.5 268.5h0M282.5 247.5h0M282.5 255.5h0M282.5 256.5h0M282.5 252.5h0M282.5 242.5h0M282.5 238.5h0M282.5 248.5h0M282.5 257.5h0M282.5 249.5h0M283.5 246.5h0M283.5 269.5h0M283.5 267.5h0M283.5 238.5h0M283.5 265.5h0M283.5 256.5h0M283.5 258.5h0M283.5 255.5h0M283.5 263.5h0M283.5 284.5h0M283.5 250.5h0M284.5 265.5h0M284.5 244.5h0M284.5 266.5h0M284.5 269.5h0M284.5 258.5h0M284.5 286.5h0M284.5 250.5h0M284.5 268.5h0M284.5 275.5h0M284.5 253.5h0M285.5 278.5h0M285.5 269.5h0M285.5 279.5h0M285.5 249.5h0M285.5 261.5h0M285.5 280.5h0M285.5 246.5h0M285.5 287.5h0M285.5 276.5h0M285.5 237.5h0M286.5 242.5h0M286.5 283.5h0M286.5 262.5h0M286.5 278.5h0M286.5 258.5h0M286.5 286.5h0M286.5 269.5h0M286.5 247.5h0M286.5 260.5h0M286.5 239.5h0M287.5 271.5h0M287.5 267.5h0M287.5 256.5h0M287.5 279.5h0M287.5 280.5h0M287.5 252.5h0M287.5 243.5h0M287.5 248.5h0M287.5 281.5h0M288.5 263.5h0M288.5 241.5h0M288.5 237.5h0M288.5 271.5h0M288.5 239.5h0M288.5 270.5h0M288.5 256.5h0M288.5 267.5h0M288.5 261.5h0M288.5 247.5h0M289.5 264.5h0M289.5 243.5h0M289.5 255.5h0M289.5 261.5h0M289.5 250.5h0M289.5 246.5h0M289.5 253.5h0M289.5 247.5h0M289.5 249.5h0M289.5 236.5h0M289.5 241.5h0M290.5 251.5h0M290.5 248.5h0M290.5 231.5h0M290.5 247.5h0M290.5 244.5h0M290.5 241.5h0M290.5 250.5h0M290.5 260.5h0M290.5 210.5h0M290.5 259.5h0M290.5 223.5h0M291.5 244.5h0M291.5 222.5h0M291.5 204.5h0M291.5 262.5h0M291.5 211.5h0M291.5 253.5h0M291.5 241.5h0M291.5 224.5h0M291.5 228.5h0M291.5 225.5h0M291.5 234.5h0M292.5 246.5h0M292.5 234.5h0M292.5 218.5h0M292.5 243.5h0M292.5 253.5h0M292.5 238.5h0M292.5 233.5h0M292.5 206.5h0M292.5 236.5h0M292.5 245.5h0M293.5 247.5h0M293.5 219.5h0M293.5 215.5h0M293.5 228.5h0M293.5 257.5h0M293.5 213.5h0M293.5 209.5h0M293.5 222.5h0M293.5 241.5h0M293.5 250.5h0M293.5 237.5h0M293.5 240.5h0M294.5 214.5h0M294.5 245.5h0M294.5 254.5h0M294.5 223.5h0M294.5 247.5h0M294.5 226.5h0M294.5 239.5h0M294.5 235.5h0M294.5 220.5h0M294.5 251.5h0M294.5 222.5h0M295.5 230.5h0M295.5 226.5h0M295.5 239.5h0M295.5 213.5h0M295.5 259.5h0M295.5 256.5h0M295.5 224.5h0M295.5 219.5h0M295.5 234.5h0M295.5 235.5h0M296.5 222.5h0M296.5 227.5h0M296.5 220.5h0M296.5 233.5h0M296.5 249.5h0M296.5 250.5h0M296.5 224.5h0M296.5 245.5h0M296.5 217.5h0M296.5 251.5h0M296.5 219.5h0M297.5 221.5h0M297.5 228.5h0M297.5 223.5h0M297.5 258.5h0M297.5 243.5h0M297.5 260.5h0M297.5 252.5h0M297.5 239.5h0M297.5 213.5h0M297.5 246.5h0M297.5 234.5h0M298.5 216.5h0M298.5 241.5h0M298.5 249.5h0M298.5 232.5h0M298.5 226.5h0M298.5 261.5h0M298.5 242.5h0M298.5 239.5h0M298.5 227.5h0M298.5 243.5h0M298.5 237.5h0M298.5 251.5h0M299.5 238.5h0M299.5 245.5h0M299.5 227.5h0M299.5 248.5h0M299.5 252.5h0M299.5 217.5h0M299.5 225.5h0M299.5 263.5h0M299.5 236.5h0M299.5 213.5h0M300.5 226.5h0M300.5 229.5h0M300.5 258.5h0M300.5 249.5h0M300.5 256.5h0M300.5 225.5h0M300.5 242.5h0M300.5 259.5h0M300.5 260.5h0M300.5 251.5h0M301.5 257.5h0M301.5 222.5h0M301.5 227.5h0M301.5 251.5h0M301.5 223.5h0M301.5 234.5h0M301.5 224.5h0M301.5 246.5h0M301.5 245.5h0M301.5 228.5h0M302.5 217.5h0M302.5 210.5h0M302.5 223.5h0M302.5 246.5h0M302.5 224.5h0M302.5 255.5h0M302.5 264.5h0M302.5 254.5h0M302.5 251.5h0M302.5 252.5h0M303.5 235.5h0M303.5 256.5h0M303.5 253.5h0M303.5 240.5h0M303.5 234.5h0M303.5 222.5h0M303.5 215.5h0M303.5 244.5h0M303.5 243.5h0M303.5 217.5h0M303.5 210.5h0M303.5 260.5h0M304.5 260.5h0M304.5 241.5h0M304.5 240.5h0M304.5 215.5h0M304.5 231.5h0M304.5 227.5h0M304.5 235.5h0M304.5 214.5h0M304.5 246.5h0M304.5 234.5h0M304.5 230.5h0M305.5 236.5h0M305.5 243.5h0M305.5 231.5h0M305.5 240.5h0M305.5 259.5h0M305.5 218.5h0M305.5 247.5h0M305.5 238.5h0M305.5 224.5h0M305.5 213.5h0M305.5 246.5h0M305.5 251.5h0M306.5 234.5h0M306.5 226.5h0M306.5 231.5h0M306.5 227.5h0M306.5 265.5h0M306.5 214.5h0M306.5 255.5h0M306.5 240.5h0M306.5 258.5h0M306.5 230.5h0M307.5 217.5h0M307.5 220.5h0M307.5 233.5h0M307.5 236.5h0M307.5 258.5h0M307.5 242.5h0M307.5 224.5h0M307.5 239.5h0M307.5 264.5h0M307.5 262.5h0M307.5 225.5h0M307.5 240.5h0M308.5 237.5h0M308.5 261.5h0M308.5 224.5h0M308.5 258.5h0M308.5 230.5h0M308.5 228.5h0M308.5 256.5h0M308.5 229.5h0M308.5 253.5h0M308.5 226.5h0M308.5 249.5h0M308.5 238.5h0M309.5 245.5h0M309.5 231.5h0M309.5 240.5h0M309.5 222.5h0M309.5 249.5h0M309.5 265.5h0M309.5 224.5h0M309.5 276.5h0M309.5 235.5h0M309.5 261.5h0M309.5 251.5h0M310.5 255.5h0M310.5 242.5h0M310.5 264.5h0M310.5 261.5h0M310.5 257.5h0M310.5 245.5h0M310.5 270.5h0M310.5 248.5h0M310.5 231.5h0M310.5 265.5h0M310.5 276.5h0M311.5 261.5h0M311.5 230.5h0M311.5 286.5h0M311.5 249.5h0M311.5 257.5h0M311.5 254.5h0M311.5 241.5h0M311.5 266.5h0M311.5 272.5h0M311.5 255.5h0M311.5 278.5h0M312.5 256.5h0M312.5 253.5h0M312.5 268.5h0M312.5 270.5h0M312.5 286.5h0M312.5 280.5h0M312.5 279.5h0M312.5 272.5h0M312.5 249.5h0M312.5 254.5h0M312.5 269.5h0M312.5 282.5h0M312.5 238.5h0M313.5 285.5h0M313.5 283.5h0M313.5 275.5h0M313.5 282.5h0M313.5 286.5h0M313.5 265.5h0M313.5 252.5h0M313.5 281.5h0M313.5 271.5h0M313.5 262.5h0M313.5 261.5h0M313.5 290.5h0M314.5 288.5h0M314.5 232.5h0M314.5 250.5h0M314.5 294.5h0M314.5 248.5h0M314.5 303.5h0M314.5 274.5h0M314.5 263.5h0M314.5 262.5h0M314.5 258.5h0M314.5 273.5h0M314.5 264.5h0M315.5 265.5h0M315.5 260.5h0M315.5 297.5h0M315.5 279.5h0M315.5 311.5h0M315.5 245.5h0M315.5 267.5h0M315.5 235.5h0M315.5 269.5h0M315.5 278.5h0M315.5 261.5h0M316.5 272.5h0M316.5 299.5h0M316.5 258.5h0M316.5 250.5h0M316.5 236.5h0M316.5 246.5h0M316.5 314.5h0M316.5 244.5h0M316.5 277.5h0M316.5 300.5h0M316.5 296.5h0M316.5 262.5h0M317.5 288.5h0M317.5 311.5h0M317.5 246.5h0M317.5 257.5h0M317.5 284.5h0M317.5 245.5h0M317.5 252.5h0M317.5 315.5h0M317.5 289.5h0M317.5 313.5h0M317.5 309.5h0M318.5 250.5h0M318.5 234.5h0M318.5 294.5h0M318.5 298.5h0M318.5 277.5h0M318.5 290.5h0M318.5 280.5h0M318.5 271.5h0M318.5 278.5h0M318.5 306.5h0M319.5 236.5h0M319.5 287.5h0M319.5 263.5h0M319.5 259.5h0M319.5 275.5h0M319.5 285.5h0M319.5 269.5h0M319.5 305.5h0M319.5 283.5h0M319.5 315.5h0M319.5 298.5h0M320.5 275.5h0M320.5 286.5h0M320.5 291.5h0M320.5 251.5h0M320.5 289.5h0M320.5 285.5h0M320.5 234.5h0M320.5 241.5h0M320.5 250.5h0M320.5 292.5h0M321.5 287.5h0M321.5 289.5h0M321.5 299.5h0M321.5 285.5h0M321.5 263.5h0M321.5 259.5h0M321.5 303.5h0M321.5 241.5h0M321.5 268.5h0M321.5 284.5h0M321.5 266.5h0M321.5 293.5h0M322.5 268.5h0M322.5 260.5h0M322.5 289.5h0M322.5 293.5h0M322.5 262.5h0M322.5 285.5h0M322.5 286.5h0M322.5 256.5h0M322.5 252.5h0M322.5 261.5h0M322.5 244.5h0M322.5 280.5h0M323.5 289.5h0M323.5 274.5h0M323.5 285.5h0M323.5 276.5h0M323.5 280.5h0M323.5 308.5h0M323.5 260.5h0M323.5 246.5h0M323.5 267.5h0M323.5 300.5h0M324.5 277.5h0M324.5 255.5h0M324.5 291.5h0M324.5 286.5h0M324.5 311.5h0M324.5 248.5h0M324.5 272.5h0M324.5 303.5h0M324.5 282.5h0M324.5 293.5h0M325.5 240.5h0M325.5 244.5h0M325.5 288.5h0M325.5 251.5h0M325.5 261.5h0M325.5 314.5h0M325.5 254.5h0M325.5 283.5h0M325.5 262.5h0M325.5 277.5h0M325.5 312.5h0M325.5 264.5h0M325.5 287.5h0M326.5 270.5h0M326.5 284.5h0M326.5 314.5h0M326.5 298.5h0M326.5 257.5h0M326.5 295.5h0M326.5 282.5h0M326.5 255.5h0M326.5 300.5h0M326.5 279.5h0M326.5 272.5h0M327.5 298.5h0M327.5 292.5h0M327.5 269.5h0M327.5 279.5h0M327.5 245.5h0M327.5 280.5h0M327.5 295.5h0M327.5 291.5h0M327.5 262.5h0M327.5 277.5h0M327.5 304.5h0M328.5 307.5h0M328.5 301.5h0M328.5 275.5h0M328.5 310.5h0M328.5 266.5h0M328.5 248.5h0M328.5 295.5h0M328.5 276.5h0M328.5 279.5h0M328.5 262.5h0M328.5 274.5h0M329.5 289.5h0M329.5 281.5h0M329.5 291.5h0M329.5 282.5h0M329.5 316.5h0M329.5 249.5h0M329.5 261.5h0M329.5 305.5h0M329.5 301.5h0M329.5 273.5h0M329.5 277.5h0M330.5 285.5h0M330.5 299.5h0M330.5 306.5h0M330.5 310.5h0M330.5 266.5h0M330.5 284.5h0M330.5 270.5h0M330.5 290.5h0M330.5 293.5h0M330.5 264.5h0M330.5 272.5h0M331.5 300.5h0M331.5 253.5h0M331.5 287.5h0M331.5 291.5h0M331.5 304.5h0M331.5 254.5h0M331.5 277.5h0M331.5 265.5h0M331.5 294.5h0M331.5 273.5h0M331.5 288.5h0M331.5 261.5h0M332.5 303.5h0M332.5 273.5h0M332.5 280.5h0M332.5 304.5h0M332.5 296.5h0M332.5 316.5h0M332.5 289.5h0M332.5 276.5h0M332.5 298.5h0M332.5 285.5h0M332.5 284.5h0M333.5 295.5h0M333.5 260.5h0M333.5 280.5h0M333.5 291.5h0M333.5 324.5h0M333.5 306.5h0M333.5 321.5h0M333.5 305.5h0M333.5 297.5h0M333.5 307.5h0M334.5 307.5h0M334.5 297.5h0M334.5 300.5h0M334.5 263.5h0M334.5 261.5h0M334.5 287.5h0M334.5 311.5h0M334.5 286.5h0M334.5 289.5h0M334.5 302.5h0M334.5 275.5h0M334.5 296.5h0M335.5 312.5h0M335.5 296.5h0M335.5 298.5h0M335.5 309.5h0M335.5 278.5h0M335.5 311.5h0M335.5 291.5h0M335.5 268.5h0M335.5 263.5h0M335.5 272.5h0M335.5 316.5h0M336.5 294.5h0M336.5 308.5h0M336.5 311.5h0M336.5 325.5h0M336.5 263.5h0M336.5 265.5h0M336.5 273.5h0M336.5 292.5h0M336.5 280.5h0M336.5 291.5h0M336.5 302.5h0M336.5 281.5h0M337.5 326.5h0M337.5 314.5h0M337.5 270.5h0M337.5 267.5h0M337.5 297.5h0M337.5 310.5h0M337.5 290.5h0M337.5 321.5h0M337.5 318.5h0M337.5 309.5h0M337.5 325.5h0M338.5 287.5h0M338.5 282.5h0M338.5 301.5h0M338.5 324.5h0M338.5 302.5h0M338.5 319.5h0M338.5 316.5h0M338.5 308.5h0M338.5 292.5h0M338.5 314.5h0M338.5 297.5h0M338.5 294.5h0M338.5 323.5h0M339.5 317.5h0M339.5 315.5h0M339.5 299.5h0M339.5 337.5h0M339.5 298.5h0M339.5 326.5h0M339.5 305.5h0M339.5 324.5h0M339.5 292.5h0M339.5 293.5h0M339.5 303.5h0M340.5 294.5h0M340.5 318.5h0M340.5 332.5h0M340.5 301.5h0M340.5 330.5h0M340.5 316.5h0M340.5 334.5h0M340.5 315.5h0M340.5 302.5h0M340.5 305.5h0M341.5 308.5h0M341.5 315.5h0M341.5 336.5h0M341.5 328.5h0M341.5 311.5h0M341.5 300.5h0M341.5 320.5h0M341.5 313.5h0M341.5 329.5h0M341.5 322.5h0M341.5 298.5h0M341.5 326.5h0M342.5 342.5h0M342.5 302.5h0M342.5 310.5h0M342.5 339.5h0M342.5 311.5h0M342.5 323.5h0M342.5 304.5h0M342.5 318.5h0M342.5 327.5h0M342.5 321.5h0M342.5 344.5h0M343.5 303.5h0M343.5 297.5h0M343.5 332.5h0M343.5 349.5h0M343.5 299.5h0M343.5 341.5h0M343.5 326.5h0M343.5 298.5h0M343.5 340.5h0M343.5 339.5h0M343.5 313.5h0M344.5 332.5h0M344.5 310.5h0M344.5 316.5h0M344.5 302.5h0M344.5 322.5h0M344.5 313.5h0M344.5 308.5h0M344.5 320.5h0M344.5 335.5h0M344.5 330.5h0M345.5 333.5h0M345.5 322.5h0M345.5 324.5h0M345.5 359.5h0M345.5 354.5h0M345.5 327.5h0M345.5 357.5h0M345.5 340.5h0M345.5 321.5h0M345.5 332.5h0M345.5 313.5h0M346.5 334.5h0M346.5 329.5h0M346.5 323.5h0M346.5 304.5h0M346.5 333.5h0M346.5 332.5h0M346.5 354.5h0M346.5 348.5h0M346.5 339.5h0M346.5 328.5h0M346.5 321.5h0M346.5 342.5h0M347.5 317.5h0M347.5 319.5h0M347.5 337.5h0M347.5 330.5h0M347.5 311.5h0M347.5 333.5h0M347.5 355.5h0M347.5 343.5h0M347.5 346.5h0M347.5 358.5h0M347.5 335.5h0M348.5 306.5h0M348.5 316.5h0M348.5 326.5h0M348.5 352.5h0M348.5 351.5h0M348.5 349.5h0M348.5 337.5h0M348.5 328.5h0M348.5 329.5h0M348.5 353.5h0M348.5 346.5h0M348.5 354.5h0M349.5 350.5h0M349.5 317.5h0M349.5 353.5h0M349.5 314.5h0M349.5 330.5h0M349.5 351.5h0M349.5 321.5h0M349.5 340.5h0M349.5 349.5h0M349.5 300.5h0M349.5 345.5h0M350.5 331.5h0M350.5 316.5h0M350.5 297.5h0M350.5 349.5h0M350.5 309.5h0M350.5 341.5h0M350.5 315.5h0M350.5 345.5h0M350.5 337.5h0M351.5 317.5h0M351.5 310.5h0M351.5 319.5h0M351.5 313.5h0M351.5 350.5h0M351.5 306.5h0M351.5 327.5h0M351.5 301.5h0M351.5 332.5h0M351.5 307.5h0M351.5 324.5h0M351.5 336.5h0M352.5 341.5h0M352.5 296.5h0M352.5 349.5h0M352.5 344.5h0M352.5 343.5h0M352.5 315.5h0M352.5 309.5h0M352.5 320.5h0M352.5 301.5h0M352.5 330.5h0M352.5 354.5h0M352.5 337.5h0M352.5 308.5h0M353.5 348.5h0M353.5 296.5h0M353.5 341.5h0M353.5 349.5h0M353.5 334.5h0M353.5 356.5h0M353.5 357.5h0M353.5 312.5h0M353.5 302.5h0M353.5 308.5h0M353.5 289.5h0M353.5 307.5h0M354.5 340.5h0M354.5 308.5h0M354.5 353.5h0M354.5 337.5h0M354.5 306.5h0M354.5 320.5h0M354.5 327.5h0M354.5 307.5h0M354.5 294.5h0M354.5 341.5h0M354.5 314.5h0M355.5 295.5h0M355.5 287.5h0M355.5 313.5h0M355.5 286.5h0M355.5 350.5h0M355.5 310.5h0M355.5 318.5h0M355.5 336.5h0M355.5 306.5h0M355.5 314.5h0M356.5 341.5h0M356.5 314.5h0M356.5 300.5h0M356.5 306.5h0M356.5 301.5h0M356.5 352.5h0M356.5 289.5h0M356.5 305.5h0M356.5 342.5h0M356.5 313.5h0M356.5 311.5h0M357.5 332.5h0M357.5 333.5h0M357.5 335.5h0M357.5 300.5h0M357.5 336.5h0M357.5 314.5h0M357.5 343.5h0M357.5 319.5h0M357.5 318.5h0M357.5 298.5h0M357.5 310.5h0M358.5 316.5h0M358.5 313.5h0M358.5 298.5h0M358.5 317.5h0M358.5 287.5h0M358.5 308.5h0M358.5 303.5h0M358.5 301.5h0M358.5 329.5h0M358.5 332.5h0M359.5 284.5h0M359.5 314.5h0M359.5 341.5h0M359.5 342.5h0M359.5 331.5h0M359.5 298.5h0M359.5 306.5h0M359.5 330.5h0M359.5 289.5h0M359.5 313.5h0M359.5 317.5h0M359.5 274.5h0M360.5 309.5h0M360.5 300.5h0M360.5 286.5h0M360.5 316.5h0M360.5 324.5h0M360.5 311.5h0M360.5 306.5h0M360.5 290.5h0M360.5 287.5h0M360.5 281.5h0M360.5 299.5h0M360.5 336.5h0M361.5 340.5h0M361.5 311.5h0M361.5 315.5h0M361.5 277.5h0M361.5 317.5h0M361.5 308.5h0M361.5 320.5h0M361.5 290.5h0M361.5 280.5h0M361.5 338.5h0M361.5 330.5h0M361.5 316.5h0M362.5 317.5h0M362.5 324.5h0M362.5 299.5h0M362.5 276.5h0M362.5 314.5h0M362.5 331.5h0M362.5 333.5h0M362.5 306.5h0M362.5 341.5h0M362.5 327.5h0M362.5 277.5h0M363.5 320.5h0M363.5 305.5h0M363.5 299.5h0M363.5 313.5h0M363.5 282.5h0M363.5 308.5h0M363.5 303.5h0M363.5 330.5h0M363.5 328.5h0M363.5 310.5h0M363.5 300.5h0M364.5 299.5h0M364.5 271.5h0M364.5 267.5h0M364.5 280.5h0M364.5 268.5h0M364.5 332.5h0M364.5 301.5h0M364.5 308.5h0M364.5 289.5h0M364.5 292.5h0M364.5 315.5h0M364.5 329.5h0M365.5 326.5h0M365.5 296.5h0M365.5 322.5h0M365.5 303.5h0M365.5 308.5h0M365.5 312.5h0M365.5 319.5h0M365.5 294.5h0M365.5 279.5h0M365.5 290.5h0M365.5 263.5h0M365.5 282.5h0M366.5 289.5h0M366.5 321.5h0M366.5 313.5h0M366.5 274.5h0M366.5 284.5h0M366.5 297.5h0M366.5 320.5h0M366.5 301.5h0M366.5 307.5h0M366.5 267.5h0M366.5 291.5h0M367.5 273.5h0M367.5 267.5h0M367.5 314.5h0M367.5 279.5h0M367.5 261.5h0M367.5 292.5h0M367.5 286.5h0M367.5 270.5h0M367.5 300.5h0M367.5 275.5h0M367.5 298.5h0M367.5 259.5h0M368.5 275.5h0M368.5 302.5h0M368.5 290.5h0M368.5 293.5h0M368.5 285.5h0M368.5 261.5h0M368.5 309.5h0M368.5 303.5h0M368.5 272.5h0M368.5 308.5h0M368.5 292.5h0M369.5 307.5h0M369.5 305.5h0M369.5 279.5h0M369.5 304.5h0M369.5 309.5h0M369.5 291.5h0M369.5 321.5h0M369.5 262.5h0M369.5 294.5h0M369.5 288.5h0M369.5 297.5h0M369.5 293.5h0M370.5 284.5h0M370.5 297.5h0M370.5 302.5h0M370.5 316.5h0M370.5 276.5h0M370.5 282.5h0M370.5 309.5h0M370.5 285.5h0M370.5 291.5h0M370.5 274.5h0M370.5 273.5h0M371.5 285.5h0M371.5 305.5h0M371.5 271.5h0M371.5 295.5h0M371.5 263.5h0M371.5 275.5h0M371.5 280.5h0M371.5 270.5h0M371.5 298.5h0M371.5 301.5h0M371.5 317.5h0M372.5 278.5h0M372.5 262.5h0M372.5 270.5h0M372.5 279.5h0M372.5 266.5h0M372.5 264.5h0M372.5 296.5h0M372.5 312.5h0M372.5 284.5h0M372.5 269.5h0M372.5 304.5h0M372.5 277.5h0M373.5 301.5h0M373.5 294.5h0M373.5 254.5h0M373.5 267.5h0M373.5 265.5h0M373.5 266.5h0M373.5 311.5h0M373.5 272.5h0M373.5 253.5h0M373.5 279.5h0M373.5 290.5h0M374.5 291.5h0M374.5 262.5h0M374.5 271.5h0M374.5 264.5h0M374.5 265.5h0M374.5 308.5h0M374.5 286.5h0M374.5 260.5h0M374.5 259.5h0M374.5 278.5h0M374.5 288.5h0M374.5 267.5h0M375.5 277.5h0M375.5 258.5h0M375.5 278.5h0M375.5 252.5h0M375.5 268.5h0M375.5 285.5h0M375.5 266.5h0M375.5 282.5h0M375.5 286.5h0M375.5 295.5h0M375.5 291.5h0M376.5 289.5h0M376.5 253.5h0M376.5 269.5h0M376.5 268.5h0M376.5 295.5h0M376.5 250.5h0M376.5 264.5h0M376.5 291.5h0M376.5 299.5h0M376.5 261.5h0M376.5 266.5h0M377.5 270.5h0M377.5 268.5h0M377.5 293.5h0M377.5 288.5h0M377.5 283.5h0M377.5 262.5h0M377.5 267.5h0M377.5 280.5h0M377.5 277.5h0M377.5 272.5h0M377.5 257.5h0M378.5 256.5h0M378.5 291.5h0M378.5 272.5h0M378.5 249.5h0M378.5 293.5h0M378.5 267.5h0M378.5 297.5h0M378.5 288.5h0M378.5 275.5h0M378.5 252.5h0M378.5 264.5h0M378.5 246.5h0M379.5 249.5h0M379.5 244.5h0M379.5 270.5h0M379.5 284.5h0M379.5 269.5h0M379.5 267.5h0M379.5 268.5h0M379.5 266.5h0M379.5 293.5h0M379.5 259.5h0M379.5 252.5h0M380.5 270.5h0M380.5 250.5h0M380.5 244.5h0M380.5 271.5h0M380.5 266.5h0M380.5 263.5h0M380.5 254.5h0M380.5 249.5h0M380.5 267.5h0M381.5 248.5h0M381.5 264.5h0M381.5 287.5h0M381.5 245.5h0M381.5 268.5h0M381.5 290.5h0M381.5 254.5h0M381.5 251.5h0M381.5 256.5h0M381.5 272.5h0M382.5 231.5h0M382.5 233.5h0M382.5 256.5h0M382.5 270.5h0M382.5 248.5h0M382.5 251.5h0M382.5 255.5h0M382.5 240.5h0M382.5 230.5h0M382.5 250.5h0M382.5 277.5h0M383.5 233.5h0M383.5 243.5h0M383.5 266.5h0M383.5 248.5h0M383.5 263.5h0M383.5 279.5h0M383.5 282.5h0M383.5 245.5h0M383.5 286.5h0M383.5 256.5h0M383.5 276.5h0M383.5 264.5h0M384.5 263.5h0M384.5 253.5h0M384.5 246.5h0M384.5 225.5h0M384.5 277.5h0M384.5 238.5h0M384.5 249.5h0M384.5 254.5h0M384.5 271.5h0M384.5 267.5h0M385.5 276.5h0M385.5 266.5h0M385.5 231.5h0M385.5 285.5h0M385.5 223.5h0M385.5 261.5h0M385.5 239.5h0M385.5 250.5h0M385.5 227.5h0M385.5 221.5h0M385.5 255.5h0M386.5 240.5h0M386.5 279.5h0M386.5 260.5h0M386.5 269.5h0M386.5 252.5h0M386.5 237.5h0M386.5 275.5h0M386.5 221.5h0M386.5 225.5h0M386.5 250.5h0M386.5 254.5h0M387.5 257.5h0M387.5 253.5h0M387.5 258.5h0M387.5 234.5h0M387.5 266.5h0M387.5 250.5h0M387.5 245.5h0M387.5 269.5h0M387.5 226.5h0M387.5 262.5h0M388.5 245.5h0M388.5 257.5h0M388.5 232.5h0M388.5 254.5h0M388.5 241.5h0M388.5 255.5h0M388.5 236.5h0M388.5 258.5h0M388.5 261.5h0M388.5 275.5h0M388.5 230.5h0M389.5 240.5h0M389.5 222.5h0M389.5 238.5h0M389.5 249.5h0M389.5 226.5h0M389.5 256.5h0M389.5 245.5h0M389.5 251.5h0M389.5 270.5h0M389.5 264.5h0M390.5 246.5h0M390.5 234.5h0M390.5 271.5h0M390.5 277.5h0M390.5 236.5h0M390.5 251.5h0M390.5 241.5h0M390.5 231.5h0M390.5 245.5h0M390.5 230.5h0M390.5 267.5h0M391.5 239.5h0M391.5 243.5h0M391.5 259.5h0M391.5 262.5h0M391.5 222.5h0M391.5 249.5h0M391.5 248.5h0M391.5 246.5h0M391.5 260.5h0M391.5 254.5h0M391.5 218.5h0M391.5 267.5h0M392.5 219.5h0M392.5 250.5h0M392.5 236.5h0M392.5 274.5h0M392.5 218.5h0M392.5 252.5h0M392.5 269.5h0M392.5 242.5h0M392.5 259.5h0M393.5 219.5h0M393.5 241.5h0M393.5 242.5h0M393.5 256.5h0M393.5 236.5h0M393.5 231.5h0M393.5 238.5h0M393.5 222.5h0M393.5 224.5h0M393.5 257.5h0M393.5 237.5h0M394.5 237.5h0M394.5 244.5h0M394.5 253.5h0M394.5 245.5h0M394.5 234.5h0M394.5 241.5h0M394.5 262.5h0M394.5 248.5h0M394.5 272.5h0M395.5 231.5h0M395.5 224.5h0M395.5 254.5h0M395.5 219.5h0M395.5 257.5h0M395.5 246.5h0M395.5 218.5h0M395.5 241.5h0M395.5 244.5h0M395.5 248.5h0M395.5 245.5h0M396.5 267.5h0M396.5 246.5h0M396.5 263.5h0M396.5 259.5h0M396.5 258.5h0M396.5 236.5h0M396.5 237.5h0M396.5 228.5h0M396.5 249.5h0M396.5 248.5h0M396.5 251.5h0M396.5 243.5h0M397.5 239.5h0M397.5 266.5h0M397.5 254.5h0M397.5 235.5h0M397.5 251.5h0M397.5 249.5h0M397.5 263.5h0M397.5 228.5h0M397.5 255.5h0M397.5 262.5h0M398.5 234.5h0M398.5 226.5h0M398.5 229.5h0M398.5 245.5h0M398.5 253.5h0M398.5 243.5h0M398.5 227.5h0M398.5 244.5h0M398.5 230.5h0M398.5 233.5h0M398.5 257.5h0M399.5 251.5h0M399.5 231.5h0M399.5 239.5h0M399.5 253.5h0M399.5 267.5h0M399.5 264.5h0M399.5 260.5h0M399.5 229.5h0M399.5 275.5h0M399.5 259.5h0M399.5 250.5h0M400.5 237.5h0M400.5 248.5h0M400.5 254.5h0M400.5 230.5h0M400.5 258.5h0M400.5 250.5h0M400.5 245.5h0M400.5 256.5h0M400.5 243.5h0M400.5 263.5h0M401.5 251.5h0M401.5 236.5h0M401.5 250.5h0M401.5 276.5h0M401.5 235.5h0M401.5 229.5h0M401.5 228.5h0M401.5 237.5h0M401.5 247.5h0M401.5 249.5h0M401.5 245.5h0M401.5 243.5h0M402.5 247.5h0M402.5 240.5h0M402.5 259.5h0M402.5 267.5h0M402.5 248.5h0M402.5 252.5h0M402.5 254.5h0M402.5 246.5h0M402.5 238.5h0M402.5 261.5h0M403.5 236.5h0M403.5 228.5h0M403.5 252.5h0M403.5 241.5h0M403.5 251.5h0M403.5 237.5h0M403.5 272.5h0M403.5 273.5h0M403.5 240.5h0M403.5 254.5h0M403.5 248.5h0M404.5 246.5h0M404.5 255.5h0M404.5 244.5h0M404.5 279.5h0M404.5 260.5h0M404.5 254.5h0M404.5 253.5h0M404.5 278.5h0M404.5 267.5h0M404.5 252.5h0M405.5 259.5h0M405.5 266.5h0M405.5 261.5h0M405.5 268.5h0M405.5 264.5h0M405.5 250.5h0M405.5 231.5h0M405.5 232.5h0M405.5 269.5h0M405.5 253.5h0M405.5 256.5h0M405.5 271.5h0M405.5 267.5h0M406.5 273.5h0M406.5 261.5h0M406.5 243.5h0M406.5 260.5h0M406.5 250.5h0M406.5 272.5h0M406.5 264.5h0M406.5 263.5h0M406.5 262.5h0M406.5 258.5h0M406.5 256.5h0M407.5 243.5h0M407.5 277.5h0M407.5 273.5h0M407.5 255.5h0M407.5 258.5h0M407.5 241.5h0M407.5 238.5h0M407.5 234.5h0M407.5 232.5h0M408.5 276.5h0M408.5 238.5h0M408.5 264.5h0M408.5 265.5h0M408.5 255.5h0M408.5 275.5h0M408.5 257.5h0M408.5 262.5h0M408.5 235.5h0M408.5 243.5h0M408.5 261.5h0M409.5 283.5h0M409.5 256.5h0M409.5 267.5h0M409.5 264.5h0M409.5 277.5h0M409.5 252.5h0M409.5 253.5h0M409.5 265.5h0M409.5 269.5h0M409.5 251.5h0M409.5 243.5h0M410.5 253.5h0M410.5 245.5h0M410.5 244.5h0M410.5 256.5h0M410.5 257.5h0M410.5 264.5h0M410.5 263.5h0M410.5 261.5h0M410.5 259.5h0M410.5 247.5h0M410.5 255.5h0M411.5 242.5h0M411.5 265.5h0M411.5 260.5h0M411.5 270.5h0M411.5 279.5h0M411.5 240.5h0M411.5 256.5h0M411.5 235.5h0M411.5 237.5h0M411.5 257.5h0M411.5 261.5h0M411.5 263.5h0M412.5 253.5h0M412.5 248.5h0M412.5 256.5h0M412.5 267.5h0M412.5 281.5h0M412.5 280.5h0M412.5 243.5h0M412.5 252.5h0M412.5 259.5h0M412.5 287.5h0M412.5 274.5h0M412.5 268.5h0M413.5 248.5h0M413.5 256.5h0M413.5 276.5h0M413.5 239.5h0M413.5 287.5h0M413.5 275.5h0M413.5 235.5h0M413.5 254.5h0M413.5 260.5h0M413.5 255.5h0M413.5 236.5h0M414.5 263.5h0M414.5 272.5h0M414.5 249.5h0M414.5 242.5h0M414.5 252.5h0M414.5 245.5h0M414.5 251.5h0M414.5 290.5h0M414.5 274.5h0M414.5 278.5h0M414.5 279.5h0M414.5 288.5h0M415.5 260.5h0M415.5 248.5h0M415.5 262.5h0M415.5 255.5h0M415.5 291.5h0M415.5 277.5h0M415.5 251.5h0M415.5 252.5h0M415.5 242.5h0M415.5 244.5h0M415.5 257.5h0M415.5 289.5h0M416.5 275.5h0M416.5 259.5h0M416.5 253.5h0M416.5 262.5h0M416.5 263.5h0M416.5 289.5h0M416.5 283.5h0M416.5 245.5h0M416.5 290.5h0M416.5 248.5h0M416.5 274.5h0M416.5 287.5h0M417.5 230.5h0M417.5 234.5h0M417.5 258.5h0M417.5 288.5h0M417.5 256.5h0M417.5 274.5h0M417.5 260.5h0M417.5 266.5h0M417.5 279.5h0M417.5 273.5h0M418.5 252.5h0M418.5 257.5h0M418.5 251.5h0M418.5 253.5h0M418.5 248.5h0M418.5 234.5h0M418.5 236.5h0M418.5 278.5h0M418.5 261.5h0M418.5 287.5h0M419.5 242.5h0M419.5 272.5h0M419.5 294.5h0M419.5 291.5h0M419.5 276.5h0M419.5 251.5h0M419.5 249.5h0M419.5 275.5h0M419.5 260.5h0M419.5 245.5h0M419.5 252.5h0M420.5 280.5h0M420.5 292.5h0M420.5 264.5h0M420.5 272.5h0M420.5 281.5h0M420.5 288.5h0M420.5 266.5h0M420.5 290.5h0M420.5 260.5h0M420.5 247.5h0M420.5 251.5h0M420.5 282.5h0M421.5 298.5h0M421.5 256.5h0M421.5 250.5h0M421.5 257.5h0M421.5 273.5h0M421.5 251.5h0M421.5 284.5h0M421.5 288.5h0M421.5 283.5h0M421.5 269.5h0M421.5 268.5h0M421.5 263.5h0M422.5 287.5h0M422.5 256.5h0M422.5 263.5h0M422.5 308.5h0M422.5 252.5h0M422.5 264.5h0M422.5 258.5h0M422.5 260.5h0M422.5 290.5h0M422.5 295.5h0M423.5 288.5h0M423.5 267.5h0M423.5 299.5h0M423.5 287.5h0M423.5 275.5h0M423.5 285.5h0M423.5 284.5h0M423.5 266.5h0M423.5 268.5h0M423.5 252.5h0M423.5 271.5h0M424.5 280.5h0M424.5 262.5h0M424.5 295.5h0M424.5 290.5h0M424.5 272.5h0M424.5 309.5h0M424.5 293.5h0M424.5 263.5h0M424.5 251.5h0M424.5 268.5h0M424.5 286.5h0M425.5 293.5h0M425.5 309.5h0M425.5 282.5h0M425.5 314.5h0M425.5 287.5h0M425.5 280.5h0M425.5 288.5h0M425.5 290.5h0M425.5 298.5h0M425.5 304.5h0M425.5 300.5h0M425.5 281.5h0M426.5 313.5h0M426.5 264.5h0M426.5 283.5h0M426.5 303.5h0M426.5 281.5h0M426.5 305.5h0M426.5 258.5h0M426.5 295.5h0M426.5 261.5h0M426.5 291.5h0M426.5 289.5h0M426.5 312.5h0M427.5 315.5h0M427.5 263.5h0M427.5 281.5h0M427.5 272.5h0M427.5 312.5h0M427.5 283.5h0M427.5 265.5h0M427.5 304.5h0M427.5 306.5h0M427.5 273.5h0M427.5 262.5h0M427.5 286.5h0M428.5 300.5h0M428.5 282.5h0M428.5 297.5h0M428.5 280.5h0M428.5 289.5h0M428.5 319.5h0M428.5 271.5h0M428.5 316.5h0M428.5 281.5h0M428.5 327.5h0M429.5 274.5h0M429.5 263.5h0M429.5 269.5h0M429.5 289.5h0M429.5 296.5h0M429.5 281.5h0M429.5 295.5h0M429.5 299.5h0M429.5 297.5h0M429.5 323.5h0M429.5 314.5h0M430.5 319.5h0M430.5 273.5h0M430.5 281.5h0M430.5 315.5h0M430.5 293.5h0M430.5 304.5h0M430.5 295.5h0M430.5 262.5h0M430.5 267.5h0M430.5 320.5h0M430.5 282.5h0M431.5 290.5h0M431.5 264.5h0M431.5 328.5h0M431.5 263.5h0M431.5 313.5h0M431.5 269.5h0M431.5 324.5h0M431.5 294.5h0M431.5 288.5h0M431.5 325.5h0M431.5 274.5h0M431.5 283.5h0M432.5 275.5h0M432.5 287.5h0M432.5 315.5h0M432.5 300.5h0M432.5 289.5h0M432.5 286.5h0M432.5 285.5h0M432.5 291.5h0M432.5 282.5h0M432.5 271.5h0M432.5 305.5h0M432.5 292.5h0M433.5 279.5h0M433.5 296.5h0M433.5 289.5h0M433.5 302.5h0M433.5 276.5h0M433.5 323.5h0M433.5 318.5h0M433.5 300.5h0M433.5 325.5h0M433.5 275.5h0M433.5 297.5h0M434.5 282.5h0M434.5 327.5h0M434.5 311.5h0M434.5 310.5h0M434.5 301.5h0M434.5 291.5h0M434.5 316.5h0M434.5 305.5h0M434.5 294.5h0M434.5 269.5h0M434.5 283.5h0M435.5 319.5h0M435.5 296.5h0M435.5 288.5h0M435.5 276.5h0M435.5 316.5h0M435.5 297.5h0M435.5 294.5h0M435.5 280.5h0M435.5 329.5h0M435.5 303.5h0M435.5 295.5h0M435.5 310.5h0M436.5 293.5h0M436.5 281.5h0M436.5 318.5h0M436.5 327.5h0M436.5 289.5h0M436.5 311.5h0M436.5 299.5h0M436.5 319.5h0M436.5 272.5h0M436.5 313.5h0M436.5 284.5h0M437.5 280.5h0M437.5 303.5h0M437.5 298.5h0M437.5 323.5h0M437.5 314.5h0M437.5 288.5h0M437.5 319.5h0M437.5 330.5h0M437.5 328.5h0M437.5 292.5h0M437.5 308.5h0M437.5 293.5h0M438.5 287.5h0M438.5 296.5h0M438.5 304.5h0M438.5 303.5h0M438.5 297.5h0M438.5 305.5h0M438.5 271.5h0M438.5 274.5h0M438.5 292.5h0M438.5 283.5h0M438.5 273.5h0M438.5 307.5h0M438.5 294.5h0M439.5 332.5h0M439.5 296.5h0M439.5 299.5h0M439.5 282.5h0M439.5 305.5h0M439.5 304.5h0M439.5 271.5h0M439.5 272.5h0M439.5 307.5h0M439.5 331.5h0M439.5 308.5h0M439.5 288.5h0M440.5 268.5h0M440.5 332.5h0M440.5 327.5h0M440.5 307.5h0M440.5 301.5h0M440.5 310.5h0M440.5 324.5h0M440.5 320.5h0M440.5 294.5h0M440.5 295.5h0M440.5 274.5h0M441.5 297.5h0M441.5 284.5h0M441.5 296.5h0M441.5 265.5h0M441.5 320.5h0M441.5 300.5h0M441.5 277.5h0M441.5 305.5h0M441.5 266.5h0M441.5 283.5h0M442.5 289.5h0M442.5 281.5h0M442.5 279.5h0M442.5 321.5h0M442.5 308.5h0M442.5 271.5h0M442.5 327.5h0M442.5 274.5h0M442.5 284.5h0M442.5 333.5h0M442.5 273.5h0M443.5 290.5h0M443.5 278.5h0M443.5 277.5h0M443.5 318.5h0M443.5 320.5h0M443.5 312.5h0M443.5 266.5h0M443.5 300.5h0M443.5 283.5h0M443.5 330.5h0M443.5 293.5h0M443.5 294.5h0M444.5 297.5h0M444.5 306.5h0M444.5 333.5h0M444.5 312.5h0M444.5 281.5h0M444.5 303.5h0M444.5 277.5h0M444.5 329.5h0M444.5 269.5h0M444.5 274.5h0M444.5 302.5h0M445.5 291.5h0M445.5 305.5h0M445.5 270.5h0M445.5 282.5h0M445.5 301.5h0M445.5 279.5h0M445.5 286.5h0M445.5 317.5h0M445.5 297.5h0M445.5 319.5h0M445.5 326.5h0M446.5 302.5h0M446.5 284.5h0M446.5 318.5h0M446.5 285.5h0M446.5 280.5h0M446.5 324.5h0M446.5 305.5h0M446.5 292.5h0M446.5 286.5h0M446.5 316.5h0M446.5 301.5h0M447.5 303.5h0M447.5 334.5h0M447.5 280.5h0M447.5 294.5h0M447.5 308.5h0M447.5 323.5h0M447.5 281.5h0M447.5 300.5h0M447.5 289.5h0M447.5 315.5h0M447.5 292.5h0M448.5 299.5h0M448.5 323.5h0M448.5 307.5h0M448.5 295.5h0M448.5 309.5h0M448.5 318.5h0M448.5 321.5h0M448.5 311.5h0M448.5 328.5h0M448.5 292.5h0M448.5 279.5h0M449.5 311.5h0M449.5 323.5h0M449.5 290.5h0M449.5 300.5h0M449.5 273.5h0M449.5 312.5h0M449.5 309.5h0M449.5 302.5h0M449.5 319.5h0M450.5 312.5h0M450.5 304.5h0M450.5 319.5h0M450.5 316.5h0M450.5 293.5h0M450.5 295.5h0M450.5 274.5h0M450.5 292.5h0M450.5 297.5h0M450.5 281.5h0M450.5 314.5h0M451.5 298.5h0M451.5 281.5h0M451.5 308.5h0M451.5 278.5h0M451.5 289.5h0M451.5 305.5h0M451.5 332.5h0M451.5 272.5h0M451.5 275.5h0M451.5 303.5h0M451.5 296.5h0M451.5 302.5h0M452.5 289.5h0M452.5 311.5h0M452.5 323.5h0M452.5 290.5h0M452.5 282.5h0M452.5 306.5h0M452.5 277.5h0M452.5 318.5h0M452.5 283.5h0M452.5 295.5h0M453.5 305.5h0M453.5 323.5h0M453.5 310.5h0M453.5 295.5h0M453.5 280.5h0M453.5 318.5h0M453.5 300.5h0M453.5 276.5h0M453.5 320.5h0M453.5 297.5h0M453.5 324.5h0M453.5 288.5h0M454.5 315.5h0M454.5 279.5h0M454.5 316.5h0M454.5 314.5h0M454.5 308.5h0M454.5 282.5h0M454.5 330.5h0M454.5 303.5h0M454.5 299.5h0M454.5 302.5h0M454.5 271.5h0M455.5 324.5h0M455.5 307.5h0M455.5 281.5h0M455.5 311.5h0M455.5 301.5h0M455.5 310.5h0M455.5 318.5h0M455.5 294.5h0M455.5 320.5h0M455.5 334.5h0M456.5 311.5h0M456.5 313.5h0M456.5 330.5h0M456.5 284.5h0M456.5 325.5h0M456.5 334.5h0M456.5 301.5h0M456.5 277.5h0M456.5 317.5h0M456.5 297.5h0M456.5 288.5h0M457.5 330.5h0M457.5 310.5h0M457.5 306.5h0M457.5 311.5h0M457.5 316.5h0M457.5 314.5h0M457.5 282.5h0M457.5 302.5h0M457.5 319.5h0M457.5 317.5h0M458.5 277.5h0M458.5 299.5h0M458.5 311.5h0M458.5 330.5h0M458.5 282.5h0M458.5 303.5h0M458.5 278.5h0M458.5 320.5h0M458.5 290.5h0M458.5 304.5h0M458.5 288.5h0M459.5 310.5h0M459.5 315.5h0M459.5 296.5h0M459.5 276.5h0M459.5 308.5h0M459.5 291.5h0M459.5 294.5h0M459.5 330.5h0M459.5 304.5h0M459.5 321.5h0M459.5 305.5h0M460.5 312.5h0M460.5 301.5h0M460.5 292.5h0M460.5 286.5h0M460.5 310.5h0M460.5 281.5h0M460.5 326.5h0M460.5 328.5h0M460.5 317.5h0M460.5 320.5h0M460.5 289.5h0M461.5 315.5h0M461.5 304.5h0M461.5 332.5h0M461.5 333.5h0M461.5 303.5h0M461.5 310.5h0M461.5 307.5h0M461.5 296.5h0M461.5 293.5h0M461.5 326.5h0M461.5 294.5h0M462.5 308.5h0M462.5 300.5h0M462.5 307.5h0M462.5 305.5h0M462.5 310.5h0M462.5 306.5h0M462.5 297.5h0M462.5 340.5h0M462.5 315.5h0M462.5 314.5h0M463.5 319.5h0M463.5 289.5h0M463.5 313.5h0M463.5 325.5h0M463.5 318.5h0M463.5 323.5h0M463.5 308.5h0M463.5 336.5h0M463.5 300.5h0M463.5 329.5h0M463.5 330.5h0M464.5 323.5h0M464.5 307.5h0M464.5 292.5h0M464.5 348.5h0M464.5 304.5h0M464.5 317.5h0M464.5 331.5h0M464.5 324.5h0M464.5 310.5h0M464.5 313.5h0M465.5 317.5h0M465.5 315.5h0M465.5 329.5h0M465.5 345.5h0M465.5 342.5h0M465.5 336.5h0M465.5 332.5h0M465.5 295.5h0M465.5 323.5h0M465.5 341.5h0M465.5 316.5h0M466.5 332.5h0M466.5 311.5h0M466.5 328.5h0M466.5 330.5h0M466.5 299.5h0M466.5 337.5h0M466.5 316.5h0M466.5 296.5h0M466.5 309.5h0M466.5 326.5h0M466.5 321.5h0M466.5 352.5h0M467.5 349.5h0M467.5 317.5h0M467.5 314.5h0M467.5 305.5h0M467.5 344.5h0M467.5 306.5h0M467.5 328.5h0M467.5 308.5h0M467.5 312.5h0M467.5 348.5h0M467.5 302.5h0M468.5 349.5h0M468.5 315.5h0M468.5 336.5h0M468.5 345.5h0M468.5 330.5h0M468.5 348.5h0M468.5 351.5h0M468.5 326.5h0M468.5 320.5h0M468.5 331.5h0M468.5 325.5h0M468.5 317.5h0M469.5 316.5h0M469.5 342.5h0M469.5 336.5h0M469.5 323.5h0M469.5 312.5h0M469.5 317.5h0M469.5 339.5h0M469.5 333.5h0M469.5 311.5h0M469.5 329.5h0M469.5 331.5h0M470.5 305.5h0M470.5 346.5h0M470.5 329.5h0M470.5 319.5h0M470.5 344.5h0M470.5 325.5h0M470.5 349.5h0M470.5 309.5h0M470.5 347.5h0M470.5 323.5h0M470.5 320.5h0M470.5 353.5h0M471.5 332.5h0M471.5 325.5h0M471.5 323.5h0M471.5 324.5h0M471.5 335.5h0M471.5 318.5h0M471.5 315.5h0M471.5 355.5h0M471.5 340.5h0M471.5 311.5h0M471.5 321.5h0M471.5 337.5h0M472.5 333.5h0M472.5 334.5h0M472.5 306.5h0M472.5 357.5h0M472.5 320.5h0M472.5 311.5h0M472.5 338.5h0M472.5 322.5h0M472.5 324.5h0M472.5 327.5h0M472.5 325.5h0M472.5 309.5h0M473.5 337.5h0M473.5 349.5h0M473.5 366.5h0M473.5 330.5h0M473.5 334.5h0M473.5 313.5h0M473.5 368.5h0M473.5 322.5h0M473.5 314.5h0M473.5 336.5h0M474.5 362.5h0M474.5 332.5h0M474.5 361.5h0M474.5 343.5h0M474.5 359.5h0M474.5 370.5h0M474.5 365.5h0M474.5 372.5h0M474.5 367.5h0M474.5 373.5h0M475.5 372.5h0M475.5 367.5h0M475.5 371.5h0M475.5 376.5h0M475.5 378.5h0M475.5 375.5h0M475.5 368.5h0M475.5 364.5h0M475.5 382.5h0M476.5 369.5h0M476.5 375.5h0M476.5 374.5h0M476.5 366.5h0M476.5 364.5h0M476.5 377.5h0M476.5 379.5h0M476.5 371.5h0M476.5 376.5h0M476.5 383.5h0M477.5 377.5h0M477.5 383.5h0M477.5 387.5h0M477.5 376.5h0M477.5 367.5h0M477.5 372.5h0M477.5 379.5h0M477.5 365.5h0M477.5 368.5h0M477.5 369.5h0M477.5 366.5h0M478.5 368.5h0M478.5 377.5h0M478.5 374.5h0M478.5 380.5h0M478.5 376.5h0M478.5 375.5h0M478.5 378.5h0M478.5 382.5h0M478.5 365.5h0M479.5 367.5h0M479.5 369.5h0M479.5 370.5h0M479.5 371.5h0M479.5 380.5h0M479.5 368.5h0M479.5 372.5h0M479.5 373.5h0M479.5 376.5h0M479.5 377.5h0M480.5 371.5h0M480.5 366.5h0M480.5 375.5h0M480.5 377.5h0M480.5 365.5h0M480.5 376.5h0M480.5 369.5h0M480.5 368.5h0M480.5 374.5h0M481.5 362.5h0M481.5 364.5h0M481.5 365.5h0M481.5 357.5h0M481.5 361.5h0M481.5 370.5h0M481.5 345.5h0M481.5 355.5h0M481.5 337.5h0M482.5 325.5h0M482.5 342.5h0M482.5 321.5h0M482.5 349.5h0M482.5 334.5h0M482.5 355.5h0M482.5 318.5h0M482.5 337.5h0M482.5 356.5h0M482.5 348.5h0M483.5 364.5h0M483.5 362.5h0M483.5 315.5h0M483.5 343.5h0M483.5 336.5h0M483.5 332.5h0M483.5 344.5h0M483.5 335.5h0M483.5 348.5h0M483.5 358.5h0M483.5 342.5h0M484.5 341.5h0M484.5 353.5h0M484.5 348.5h0M484.5 334.5h0M484.5 345.5h0M484.5 332.5h0M484.5 329.5h0M484.5 312.5h0M484.5 331.5h0M485.5 311.5h0M485.5 331.5h0M485.5 322.5h0M485.5 326.5h0M485.5 336.5h0M485.5 344.5h0M485.5 309.5h0M485.5 325.5h0M485.5 313.5h0M485.5 319.5h0M485.5 321.5h0M485.5 328.5h0M486.5 323.5h0M486.5 309.5h0M486.5 318.5h0M486.5 325.5h0M486.5 322.5h0M486.5 319.5h0M486.5 324.5h0M486.5 328.5h0M486.5 316.5h0M486.5 307.5h0M486.5 314.5h0M487.5 323.5h0M487.5 316.5h0M487.5 328.5h0M487.5 314.5h0M487.5 311.5h0M487.5 322.5h0M487.5 324.5h0M487.5 308.5h0M487.5 305.5h0M488.5 314.5h0M488.5 304.5h0M488.5 323.5h0M488.5 317.5h0M488.5 312.5h0M488.5 306.5h0M488.5 325.5h0M488.5 313.5h0M488.5 319.5h0M488.5 324.5h0M488.5 321.5h0M489.5 308.5h0M489.5 317.5h0M489.5 304.5h0M489.5 316.5h0M489.5 302.5h0M489.5 323.5h0M489.5 311.5h0M489.5 312.5h0M490.5 318.5h0M490.5 310.5h0M490.5 317.5h0M490.5 309.5h0M490.5 312.5h0M490.5 311.5h0M490.5 315.5h0M490.5 304.5h0M491.5 314.5h0M491.5 301.5h0M491.5 317.5h0M491.5 310.5h0M491.5 313.5h0M491.5 304.5h0M491.5 312.5h0M491.5 300.5h0M491.5 303.5h0M492.5 310.5h0M492.5 307.5h0M492.5 309.5h0M492.5 312.5h0M492.5 313.5h0M492.5 302.5h0M492.5 306.5h0M492.5 311.5h0M493.5 306.5h0M493.5 307.5h0M493.5 311.5h0M493.5 314.5h0M493.5 303.5h0M493.5 310.5h0M493.5 308.5h0M493.5 313.5h0M494.5 304.5h0M494.5 311.5h0M494.5 313.5h0M494.5 308.5h0M494.5 309.5h0M494.5 310.5h0M494.5 315.5h0M494.5 316.5h0M494.5 312.5h0M495.5 307.5h0M495.5 310.5h0M495.5 316.5h0M495.5 315.5h0M495.5 311.5h0M495.5 309.5h0M495.5 312.5h0M495.5 306.5h0M495.5 308.5h0M495.5 305.5h0M496.5 307.5h0M496.5 304.5h0M496.5 308.5h0M496.5 306.5h0M496.5 314.5h0M496.5 311.5h0M496.5 310.5h0M497.5 307.5h0M497.5 308.5h0M497.5 305.5h0M121.5 124.5h0M111.5 148.5h0M120.5 145.5h0M121.5 148.5h0M123.5 153.5h0M151.5 152.5h0M149.5 164.5h0M150.5 178.5h0M150.5 183.5h0M150.5 187.5h0M176.5 193.5h0M181.5 198.5h0M175.5 205.5h0M179.5 212.5h0M194.5 213.5h0M136.5 207.5h0M112.5 160.5h0M121.5 160.5h0M198.5 331.5h0M198.5 326.5h0M197.5 322.5h0M199.5 318.5h0M197.5 312.5h0M201.5 311.5h0M182.5 289.5h0M185.5 305.5h0M103.5 246.5h0M112.5 245.5h0M109.5 255.5h0M109.5 261.5h0M118.5 232.5h0M106.5 237.5h0M165.5 218.5h0M266.5 134.5h0M234.5 156.5h0M237.5 160.5h0M238.5 163.5h0M244.5 161.5h0M245.5 165.5h0M259.5 163.5h0M222.5 168.5h0M223.5 173.5h0M223.5 180.5h0M232.5 168.5h0M256.5 171.5h0M251.5 173.5h0M267.5 172.5h0M276.5 178.5h0M273.5 181.5h0M266.5 185.5h0M282.5 190.5h0M302.5 167.5h0M302.5 185.5h0M291.5 194.5h0M293.5 198.5h0M292.5 208.5h0M302.5 196.5h0M304.5 199.5h0M300.5 203.5h0M212.5 190.5h0M210.5 199.5h0M311.5 217.5h0M255.5 275.5h0M285.5 297.5h0M255.5 276.5h0M254.5 263.5h0M285.5 298.5h0M318.5 335.5h0M318.5 343.5h0M374.5 334.5h0M297.5 275.5h0M302.5 279.5h0M298.5 285.5h0M301.5 289.5h0M306.5 288.5h0M324.5 225.5h0M326.5 232.5h0M336.5 239.5h0M336.5 253.5h0M352.5 251.5h0M355.5 246.5h0M326.5 231.5h0M326.5 235.5h0M336.5 254.5h0M322.5 237.5h0M354.5 246.5h0M367.5 243.5h0M366.5 248.5h0M377.5 242.5h0M343.5 361.5h0M347.5 359.5h0M355.5 356.5h0M352.5 350.5h0M351.5 357.5h0M395.5 289.5h0M395.5 301.5h0M382.5 298.5h0M381.5 304.5h0M391.5 307.5h0M405.5 293.5h0M406.5 298.5h0M415.5 301.5h0M420.5 311.5h0M389.5 184.5h0M394.5 195.5h0M394.5 200.5h0M394.5 202.5h0M414.5 205.5h0M422.5 207.5h0M369.5 211.5h0M369.5 215.5h0M391.5 212.5h0M395.5 215.5h0M378.5 223.5h0M384.5 223.5h0M421.5 221.5h0M417.5 222.5h0M379.5 231.5h0M409.5 226.5h0M422.5 231.5h0M422.5 240.5h0M430.5 248.5h0M454.5 246.5h0M454.5 250.5h0M441.5 255.5h0M419.5 222.5h0M422.5 238.5h0M453.5 265.5h0M458.5 268.5h0M425.5 321.5h0M424.5 327.5h0M428.5 335.5h0M432.5 325.5h0M432.5 331.5h0M441.5 335.5h0M445.5 333.5h0M448.5 338.5h0M446.5 347.5h0M461.5 347.5h0M461.5 356.5h0M462.5 360.5h0M462.5 363.5h0M467.5 353.5h0M468.5 368.5h0M468.5 371.5h0M471.5 362.5h0M477.5 410.5h0M497.5 317.5h0M497.5 322.5h0M490.5 327.5h0M486.5 335.5h0M482.5 307.5h0M490.5 300.5h0M496.5 305.5h0M493.5 287.5h0M490.5 292.5h0M502.5 287.5h0M502.5 295.5h0M502.5 300.5h0M510.5 300.5h0M517.5 300.5h0M517.5 292.5h0M502.5 279.5h0M507.5 282.5h0M511.5 286.5h0M511.5 275.5h0M511.5 278.5h0M505.5 265.5h0M508.5 263.5h0M511.5 264.5h0M518.5 267.5h0M501.5 250.5h0M504.5 249.5h0M511.5 252.5h0M515.5 255.5h0M516.5 248.5h0M515.5 242.5h0M498.5 297.5h0M501.5 292.5h0M492.5 294.5h0M506.5 298.5h0M511.5 300.5h0M541.5 74.5h0M540.5 87.5h0M541.5 102.5h0M550.5 124.5h0M541.5 133.5h0M525.5 135.5h0M529.5 140.5h0M552.5 139.5h0M530.5 145.5h0M531.5 145.5h0M552.5 145.5h0M549.5 146.5h0M546.5 149.5h0M540.5 150.5h0M544.5 152.5h0M545.5 154.5h0M530.5 153.5h0M530.5 156.5h0M531.5 157.5h0M552.5 154.5h0M553.5 158.5h0M541.5 161.5h0M551.5 161.5h0M553.5 162.5h0M550.5 163.5h0M553.5 168.5h0M551.5 171.5h0M536.5 170.5h0M528.5 172.5h0M534.5 173.5h0M545.5 172.5h0M537.5 175.5h0M540.5 177.5h0M546.5 176.5h0M528.5 177.5h0M528.5 180.5h0M535.5 180.5h0M540.5 180.5h0M548.5 178.5h0M553.5 178.5h0M537.5 185.5h0M551.5 182.5h0M552.5 185.5h0M553.5 188.5h0M552.5 191.5h0M553.5 196.5h0M546.5 201.5h0M541.5 203.5h0M553.5 201.5h0M553.5 203.5h0M550.5 206.5h0M548.5 229.5h0M107.5 167.5h0M112.5 165.5h0M116.5 166.5h0M121.5 166.5h0M129.5 218.5h0M132.5 218.5h0M133.5 206.5h0M138.5 206.5h0M142.5 226.5h0M152.5 194.5h0M166.5 245.5h0M170.5 245.5h0M186.5 223.5h0M200.5 272.5h0M201.5 272.5h0M222.5 180.5h0M228.5 185.5h0M238.5 174.5h0M258.5 197.5h0M267.5 180.5h0M272.5 184.5h0M277.5 184.5h0M284.5 238.5h0M286.5 238.5h0M291.5 200.5h0M296.5 207.5h0M300.5 209.5h0M305.5 209.5h0M320.5 235.5h0M346.5 299.5h0M390.5 220.5h0M395.5 217.5h0M405.5 230.5h0M410.5 230.5h0M415.5 232.5h0M420.5 230.5h0M432.5 262.5h0M440.5 267.5h0M447.5 264.5h0M478.5 366.5h0M494.5 299.5h0M105.5 232.5h0M110.5 229.5h0M115.5 227.5h0M120.5 229.5h0M128.5 288.5h0M131.5 288.5h0M135.5 271.5h0M142.5 293.5h0M148.5 255.5h0M151.5 255.5h0M164.5 301.5h0M170.5 306.5h0M171.5 310.5h0M179.5 276.5h0M180.5 276.5h0M212.5 278.5h0M216.5 278.5h0M217.5 264.5h0M240.5 218.5h0M252.5 257.5h0M258.5 255.5h0M267.5 247.5h0M277.5 259.5h0M286.5 290.5h0M292.5 262.5h0M296.5 260.5h0M300.5 262.5h0M305.5 264.5h0M317.5 316.5h0M324.5 315.5h0M343.5 362.5h0M349.5 359.5h0M395.5 271.5h0M410.5 284.5h0M428.5 332.5h0M435.5 328.5h0M441.5 332.5h0M447.5 335.5h0M455.5 333.5h0M459.5 333.5h0M476.5 391.5h0M497.5 319.5h0" fill="none" stroke="#f00" stroke-width="5.56" stroke-linecap="round"/>
<rect x="80.5" y="58.5" width="496" height="369" fill="none" stroke="#000" stroke-width="1" shape-rendering="crispEdges"/>
<path d="M89.5 428v4.6M149.5 428v4.6M209.5 428v4.6M269.5 428v4.6M330.5 428v4.6M390.5 428v4.6M450.5 428v4.6M510.5 428v4.6M570.5 428v4.6M80 85.5h-4.6M80 129.5h-4.6M80 173.5h-4.6M80 216.5h-4.6M80 260.5h-4.6M80 304.5h-4.6M80 348.5h-4.6M80 391.5h-4.6" stroke="#000" stroke-width="1" fill="none"/>
<g font-family="'DejaVu Sans', 'Liberation Sans', sans-serif" font-size="13.89" fill="#000">
<text x="89.50" y="448.3" text-anchor="middle">2004</text>
<text x="149.62" y="448.3" text-anchor="middle">2006</text>
<text x="209.74" y="448.3" text-anchor="middle">2008</text>
<text x="269.86" y="448.3" text-anchor="middle">2010</text>
<text x="329.98" y="448.3" text-anchor="middle">2012</text>
<text x="390.10" y="448.3" text-anchor="middle">2014</text>
<text x="450.22" y="448.3" text-anchor="middle">2016</text>
<text x="510.34" y="448.3" text-anchor="middle">2018</text>
<text x="570.46" y="448.3" text-anchor="middle">2020</text>
<text x="71.6" y="90.74" text-anchor="end">0.03</text>
<text x="71.6" y="134.74" text-anchor="end">0.02</text>
<text x="71.6" y="178.74" text-anchor="end">0.01</text>
<text x="71.6" y="221.74" text-anchor="end">0.00</text>
<text x="71.6" y="265.74" text-anchor="end">−0.01</text>
<text x="71.6" y="309.74" text-anchor="end">−0.02</text>
<text x="71.6" y="353.74" text-anchor="end">−0.03</text>
<text x="71.6" y="396.74" text-anchor="end">−0.04</text>
<text transform="translate(19.6 244) rotate(-90)" text-anchor="middle">m</text>
<text x="327.7" y="48.7" text-anchor="middle" font-size="16.67">KAPT V</text>
<rect x="87.6" y="65.7" width="191.6" height="24.5" rx="2.8" ry="2.8" fill="#fff" fill-opacity="0.8" stroke="#dadada" stroke-width="1.11"/>
<circle cx="106.5" cy="76.5" r="2.78" fill="#f00"/>
<text x="135.3" y="81.5" letter-spacing="0.05">repro2018a (IGS14)</text>
</g>
</svg>
</body></html>
